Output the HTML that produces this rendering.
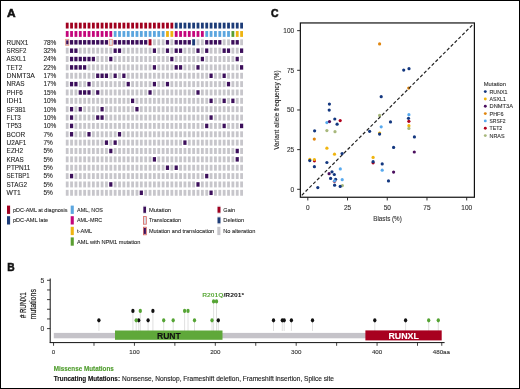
<!DOCTYPE html>
<html><head><meta charset="utf-8"><style>
html,body{margin:0;padding:0;background:#fff;}
body{width:520px;height:389px;overflow:hidden;}
svg{display:block;font-family:"Liberation Sans", sans-serif;will-change:transform;}
</style></head><body>
<svg width="520" height="389" viewBox="0 0 520 389">
<rect x="0" y="0" width="520" height="389" fill="#fff"/>
<rect x="65.80" y="22.68" width="2.80" height="5.85" fill="#a1001f"/>
<rect x="65.80" y="31.04" width="2.80" height="5.85" fill="#c4067c"/>
<rect x="70.16" y="22.68" width="2.80" height="5.85" fill="#a1001f"/>
<rect x="70.16" y="31.04" width="2.80" height="5.85" fill="#c4067c"/>
<rect x="74.52" y="22.68" width="2.80" height="5.85" fill="#a1001f"/>
<rect x="74.52" y="31.04" width="2.80" height="5.85" fill="#c4067c"/>
<rect x="78.88" y="22.68" width="2.80" height="5.85" fill="#a1001f"/>
<rect x="78.88" y="31.04" width="2.80" height="5.85" fill="#c4067c"/>
<rect x="83.24" y="22.68" width="2.80" height="5.85" fill="#a1001f"/>
<rect x="83.24" y="31.04" width="2.80" height="5.85" fill="#c4067c"/>
<rect x="87.60" y="22.68" width="2.80" height="5.85" fill="#a1001f"/>
<rect x="87.60" y="31.04" width="2.80" height="5.85" fill="#c4067c"/>
<rect x="91.96" y="22.68" width="2.80" height="5.85" fill="#a1001f"/>
<rect x="91.96" y="31.04" width="2.80" height="5.85" fill="#c4067c"/>
<rect x="96.32" y="22.68" width="2.80" height="5.85" fill="#a1001f"/>
<rect x="96.32" y="31.04" width="2.80" height="5.85" fill="#c4067c"/>
<rect x="100.68" y="22.68" width="2.80" height="5.85" fill="#a1001f"/>
<rect x="100.68" y="31.04" width="2.80" height="5.85" fill="#c4067c"/>
<rect x="105.04" y="22.68" width="2.80" height="5.85" fill="#a1001f"/>
<rect x="105.04" y="31.04" width="2.80" height="5.85" fill="#c4067c"/>
<rect x="109.40" y="22.68" width="2.80" height="5.85" fill="#a1001f"/>
<rect x="109.40" y="31.04" width="2.80" height="5.85" fill="#c4067c"/>
<rect x="113.76" y="22.68" width="2.80" height="5.85" fill="#a1001f"/>
<rect x="113.76" y="31.04" width="2.80" height="5.85" fill="#5ba6df"/>
<rect x="118.12" y="22.68" width="2.80" height="5.85" fill="#a1001f"/>
<rect x="118.12" y="31.04" width="2.80" height="5.85" fill="#5ba6df"/>
<rect x="122.48" y="22.68" width="2.80" height="5.85" fill="#a1001f"/>
<rect x="122.48" y="31.04" width="2.80" height="5.85" fill="#5ba6df"/>
<rect x="126.84" y="22.68" width="2.80" height="5.85" fill="#a1001f"/>
<rect x="126.84" y="31.04" width="2.80" height="5.85" fill="#5ba6df"/>
<rect x="131.20" y="22.68" width="2.80" height="5.85" fill="#a1001f"/>
<rect x="131.20" y="31.04" width="2.80" height="5.85" fill="#5ba6df"/>
<rect x="135.56" y="22.68" width="2.80" height="5.85" fill="#a1001f"/>
<rect x="135.56" y="31.04" width="2.80" height="5.85" fill="#5ba6df"/>
<rect x="139.92" y="22.68" width="2.80" height="5.85" fill="#a1001f"/>
<rect x="139.92" y="31.04" width="2.80" height="5.85" fill="#5ba6df"/>
<rect x="144.28" y="22.68" width="2.80" height="5.85" fill="#a1001f"/>
<rect x="144.28" y="31.04" width="2.80" height="5.85" fill="#5ba6df"/>
<rect x="148.64" y="22.68" width="2.80" height="5.85" fill="#a1001f"/>
<rect x="148.64" y="31.04" width="2.80" height="5.85" fill="#5ba6df"/>
<rect x="153.00" y="22.68" width="2.80" height="5.85" fill="#a1001f"/>
<rect x="153.00" y="31.04" width="2.80" height="5.85" fill="#5ba6df"/>
<rect x="157.36" y="22.68" width="2.80" height="5.85" fill="#a1001f"/>
<rect x="157.36" y="31.04" width="2.80" height="5.85" fill="#5ba6df"/>
<rect x="161.72" y="22.68" width="2.80" height="5.85" fill="#a1001f"/>
<rect x="161.72" y="31.04" width="2.80" height="5.85" fill="#5ba6df"/>
<rect x="166.08" y="22.68" width="2.80" height="5.85" fill="#a1001f"/>
<rect x="166.08" y="31.04" width="2.80" height="5.85" fill="#eeb412"/>
<rect x="170.44" y="22.68" width="2.80" height="5.85" fill="#a1001f"/>
<rect x="170.44" y="31.04" width="2.80" height="5.85" fill="#eeb412"/>
<rect x="174.80" y="22.68" width="2.80" height="5.85" fill="#1d3c78"/>
<rect x="174.80" y="31.04" width="2.80" height="5.85" fill="#c4067c"/>
<rect x="179.16" y="22.68" width="2.80" height="5.85" fill="#1d3c78"/>
<rect x="179.16" y="31.04" width="2.80" height="5.85" fill="#c4067c"/>
<rect x="183.52" y="22.68" width="2.80" height="5.85" fill="#1d3c78"/>
<rect x="183.52" y="31.04" width="2.80" height="5.85" fill="#c4067c"/>
<rect x="187.88" y="22.68" width="2.80" height="5.85" fill="#1d3c78"/>
<rect x="187.88" y="31.04" width="2.80" height="5.85" fill="#c4067c"/>
<rect x="192.24" y="22.68" width="2.80" height="5.85" fill="#1d3c78"/>
<rect x="192.24" y="31.04" width="2.80" height="5.85" fill="#c4067c"/>
<rect x="196.60" y="22.68" width="2.80" height="5.85" fill="#1d3c78"/>
<rect x="196.60" y="31.04" width="2.80" height="5.85" fill="#c4067c"/>
<rect x="200.96" y="22.68" width="2.80" height="5.85" fill="#1d3c78"/>
<rect x="200.96" y="31.04" width="2.80" height="5.85" fill="#c4067c"/>
<rect x="205.32" y="22.68" width="2.80" height="5.85" fill="#1d3c78"/>
<rect x="205.32" y="31.04" width="2.80" height="5.85" fill="#5ba6df"/>
<rect x="209.68" y="22.68" width="2.80" height="5.85" fill="#1d3c78"/>
<rect x="209.68" y="31.04" width="2.80" height="5.85" fill="#5ba6df"/>
<rect x="214.04" y="22.68" width="2.80" height="5.85" fill="#1d3c78"/>
<rect x="214.04" y="31.04" width="2.80" height="5.85" fill="#5ba6df"/>
<rect x="218.40" y="22.68" width="2.80" height="5.85" fill="#1d3c78"/>
<rect x="218.40" y="31.04" width="2.80" height="5.85" fill="#5ba6df"/>
<rect x="222.76" y="22.68" width="2.80" height="5.85" fill="#1d3c78"/>
<rect x="222.76" y="31.04" width="2.80" height="5.85" fill="#5ba6df"/>
<rect x="227.12" y="22.68" width="2.80" height="5.85" fill="#1d3c78"/>
<rect x="227.12" y="31.04" width="2.80" height="5.85" fill="#5ba6df"/>
<rect x="231.48" y="22.68" width="2.80" height="5.85" fill="#1d3c78"/>
<rect x="231.48" y="31.04" width="2.80" height="5.85" fill="#5a9e31"/>
<rect x="235.84" y="22.68" width="2.80" height="5.85" fill="#1d3c78"/>
<rect x="235.84" y="31.04" width="2.80" height="5.85" fill="#eeb412"/>
<rect x="240.20" y="22.68" width="2.80" height="5.85" fill="#1d3c78"/>
<rect x="240.20" y="31.04" width="2.80" height="5.85" fill="#eeb412"/>
<rect x="65.65" y="39.37" width="3.1" height="5.9" fill="#dde0e6" stroke="#e69a8a" stroke-width="0.9"/>
<rect x="66.20" y="40.37" width="2.20" height="3.90" fill="#3c0f5b"/>
<rect x="69.96" y="40.07" width="3.20" height="4.50" fill="#3c0f5b"/>
<rect x="74.32" y="40.07" width="3.20" height="4.50" fill="#3c0f5b"/>
<rect x="78.68" y="40.07" width="3.20" height="4.50" fill="#3c0f5b"/>
<rect x="83.04" y="40.07" width="3.20" height="4.50" fill="#3c0f5b"/>
<rect x="87.40" y="40.07" width="3.20" height="4.50" fill="#3c0f5b"/>
<rect x="91.76" y="40.07" width="3.20" height="4.50" fill="#3c0f5b"/>
<rect x="96.12" y="40.07" width="3.20" height="4.50" fill="#3c0f5b"/>
<rect x="100.48" y="40.07" width="3.20" height="4.50" fill="#3c0f5b"/>
<rect x="104.84" y="40.07" width="3.20" height="4.50" fill="#3c0f5b"/>
<rect x="109.25" y="39.37" width="3.1" height="5.9" fill="#dde0e6" stroke="#e69a8a" stroke-width="0.9"/>
<rect x="113.56" y="40.07" width="3.20" height="4.50" fill="#3c0f5b"/>
<rect x="117.92" y="40.07" width="3.20" height="4.50" fill="#3c0f5b"/>
<rect x="122.28" y="40.07" width="3.20" height="4.50" fill="#3c0f5b"/>
<rect x="126.64" y="40.07" width="3.20" height="4.50" fill="#3c0f5b"/>
<rect x="131.00" y="40.07" width="3.20" height="4.50" fill="#3c0f5b"/>
<rect x="135.36" y="40.07" width="3.20" height="4.50" fill="#3c0f5b"/>
<rect x="139.72" y="40.07" width="3.20" height="4.50" fill="#3c0f5b"/>
<rect x="144.08" y="40.07" width="3.20" height="4.50" fill="#3c0f5b"/>
<rect x="148.59" y="39.27" width="2.90" height="6.10" fill="#a1001f"/>
<rect x="153.00" y="39.37" width="2.80" height="5.90" fill="#c7c6cb"/>
<rect x="157.36" y="39.37" width="2.80" height="5.90" fill="#c7c6cb"/>
<rect x="161.72" y="39.37" width="2.80" height="5.90" fill="#c7c6cb"/>
<rect x="165.88" y="40.07" width="3.20" height="4.50" fill="#3c0f5b"/>
<rect x="170.44" y="39.37" width="2.80" height="5.90" fill="#c7c6cb"/>
<rect x="174.60" y="40.07" width="3.20" height="4.50" fill="#3c0f5b"/>
<rect x="178.96" y="40.07" width="3.20" height="4.50" fill="#3c0f5b"/>
<rect x="183.32" y="40.07" width="3.20" height="4.50" fill="#3c0f5b"/>
<rect x="187.68" y="40.07" width="3.20" height="4.50" fill="#3c0f5b"/>
<rect x="192.19" y="39.27" width="2.90" height="6.10" fill="#1d3c78"/>
<rect x="196.60" y="39.37" width="2.80" height="5.90" fill="#c7c6cb"/>
<rect x="200.96" y="39.37" width="2.80" height="5.90" fill="#c7c6cb"/>
<rect x="205.12" y="40.07" width="3.20" height="4.50" fill="#3c0f5b"/>
<rect x="209.48" y="40.07" width="3.20" height="4.50" fill="#3c0f5b"/>
<rect x="213.84" y="40.07" width="3.20" height="4.50" fill="#3c0f5b"/>
<rect x="218.20" y="40.07" width="3.20" height="4.50" fill="#3c0f5b"/>
<rect x="222.76" y="39.37" width="2.80" height="5.90" fill="#c7c6cb"/>
<rect x="227.12" y="39.37" width="2.80" height="5.90" fill="#c7c6cb"/>
<rect x="231.28" y="40.07" width="3.20" height="4.50" fill="#3c0f5b"/>
<rect x="235.64" y="40.07" width="3.20" height="4.50" fill="#3c0f5b"/>
<rect x="240.20" y="39.37" width="2.80" height="5.90" fill="#c7c6cb"/>
<text x="6.60" y="44.62" font-size="6.6" fill="#262626" textLength="21.80" lengthAdjust="spacingAndGlyphs" stroke="#262626" stroke-width="0.1">RUNX1</text>
<text x="43.40" y="44.62" font-size="6.5" fill="#262626" stroke="#262626" stroke-width="0.1">78%</text>
<rect x="65.80" y="47.73" width="2.80" height="5.90" fill="#c7c6cb"/>
<rect x="69.96" y="48.43" width="3.20" height="4.50" fill="#3c0f5b"/>
<rect x="74.32" y="48.43" width="3.20" height="4.50" fill="#3c0f5b"/>
<rect x="78.88" y="47.73" width="2.80" height="5.90" fill="#c7c6cb"/>
<rect x="83.24" y="47.73" width="2.80" height="5.90" fill="#c7c6cb"/>
<rect x="87.60" y="47.73" width="2.80" height="5.90" fill="#c7c6cb"/>
<rect x="91.96" y="47.73" width="2.80" height="5.90" fill="#c7c6cb"/>
<rect x="96.32" y="47.73" width="2.80" height="5.90" fill="#c7c6cb"/>
<rect x="100.68" y="47.73" width="2.80" height="5.90" fill="#c7c6cb"/>
<rect x="105.04" y="47.73" width="2.80" height="5.90" fill="#c7c6cb"/>
<rect x="109.40" y="47.73" width="2.80" height="5.90" fill="#c7c6cb"/>
<rect x="113.56" y="48.43" width="3.20" height="4.50" fill="#3c0f5b"/>
<rect x="117.92" y="48.43" width="3.20" height="4.50" fill="#3c0f5b"/>
<rect x="122.48" y="47.73" width="2.80" height="5.90" fill="#c7c6cb"/>
<rect x="126.84" y="47.73" width="2.80" height="5.90" fill="#c7c6cb"/>
<rect x="131.20" y="47.73" width="2.80" height="5.90" fill="#c7c6cb"/>
<rect x="135.56" y="47.73" width="2.80" height="5.90" fill="#c7c6cb"/>
<rect x="139.92" y="47.73" width="2.80" height="5.90" fill="#c7c6cb"/>
<rect x="144.28" y="47.73" width="2.80" height="5.90" fill="#c7c6cb"/>
<rect x="148.64" y="47.73" width="2.80" height="5.90" fill="#c7c6cb"/>
<rect x="152.80" y="48.43" width="3.20" height="4.50" fill="#3c0f5b"/>
<rect x="157.36" y="47.73" width="2.80" height="5.90" fill="#c7c6cb"/>
<rect x="161.72" y="47.73" width="2.80" height="5.90" fill="#c7c6cb"/>
<rect x="165.88" y="48.43" width="3.20" height="4.50" fill="#3c0f5b"/>
<rect x="170.44" y="47.73" width="2.80" height="5.90" fill="#c7c6cb"/>
<rect x="174.60" y="48.43" width="3.20" height="4.50" fill="#3c0f5b"/>
<rect x="178.96" y="48.43" width="3.20" height="4.50" fill="#3c0f5b"/>
<rect x="183.52" y="47.73" width="2.80" height="5.90" fill="#c7c6cb"/>
<rect x="187.88" y="47.73" width="2.80" height="5.90" fill="#c7c6cb"/>
<rect x="192.24" y="47.73" width="2.80" height="5.90" fill="#c7c6cb"/>
<rect x="196.40" y="48.43" width="3.20" height="4.50" fill="#3c0f5b"/>
<rect x="200.96" y="47.73" width="2.80" height="5.90" fill="#c7c6cb"/>
<rect x="205.12" y="48.43" width="3.20" height="4.50" fill="#3c0f5b"/>
<rect x="209.68" y="47.73" width="2.80" height="5.90" fill="#c7c6cb"/>
<rect x="214.04" y="47.73" width="2.80" height="5.90" fill="#c7c6cb"/>
<rect x="218.40" y="47.73" width="2.80" height="5.90" fill="#c7c6cb"/>
<rect x="222.56" y="48.43" width="3.20" height="4.50" fill="#3c0f5b"/>
<rect x="226.92" y="48.43" width="3.20" height="4.50" fill="#3c0f5b"/>
<rect x="231.48" y="47.73" width="2.80" height="5.90" fill="#c7c6cb"/>
<rect x="235.84" y="47.73" width="2.80" height="5.90" fill="#c7c6cb"/>
<rect x="240.00" y="48.43" width="3.20" height="4.50" fill="#3c0f5b"/>
<text x="6.60" y="52.98" font-size="6.6" fill="#262626" textLength="19.70" lengthAdjust="spacingAndGlyphs" stroke="#262626" stroke-width="0.1">SRSF2</text>
<text x="43.40" y="52.98" font-size="6.5" fill="#262626" stroke="#262626" stroke-width="0.1">32%</text>
<rect x="65.80" y="56.09" width="2.80" height="5.90" fill="#c7c6cb"/>
<rect x="69.96" y="56.79" width="3.20" height="4.50" fill="#3c0f5b"/>
<rect x="74.32" y="56.79" width="3.20" height="4.50" fill="#3c0f5b"/>
<rect x="78.68" y="56.79" width="3.20" height="4.50" fill="#3c0f5b"/>
<rect x="83.04" y="56.79" width="3.20" height="4.50" fill="#3c0f5b"/>
<rect x="87.40" y="56.79" width="3.20" height="4.50" fill="#3c0f5b"/>
<rect x="91.76" y="56.79" width="3.20" height="4.50" fill="#3c0f5b"/>
<rect x="96.32" y="56.09" width="2.80" height="5.90" fill="#c7c6cb"/>
<rect x="100.68" y="56.09" width="2.80" height="5.90" fill="#c7c6cb"/>
<rect x="105.04" y="56.09" width="2.80" height="5.90" fill="#c7c6cb"/>
<rect x="109.20" y="56.79" width="3.20" height="4.50" fill="#3c0f5b"/>
<rect x="113.76" y="56.09" width="2.80" height="5.90" fill="#c7c6cb"/>
<rect x="118.12" y="56.09" width="2.80" height="5.90" fill="#c7c6cb"/>
<rect x="122.48" y="56.09" width="2.80" height="5.90" fill="#c7c6cb"/>
<rect x="126.84" y="56.09" width="2.80" height="5.90" fill="#c7c6cb"/>
<rect x="131.20" y="56.09" width="2.80" height="5.90" fill="#c7c6cb"/>
<rect x="135.56" y="56.09" width="2.80" height="5.90" fill="#c7c6cb"/>
<rect x="139.92" y="56.09" width="2.80" height="5.90" fill="#c7c6cb"/>
<rect x="144.28" y="56.09" width="2.80" height="5.90" fill="#c7c6cb"/>
<rect x="148.64" y="56.09" width="2.80" height="5.90" fill="#c7c6cb"/>
<rect x="153.00" y="56.09" width="2.80" height="5.90" fill="#c7c6cb"/>
<rect x="157.36" y="56.09" width="2.80" height="5.90" fill="#c7c6cb"/>
<rect x="161.72" y="56.09" width="2.80" height="5.90" fill="#c7c6cb"/>
<rect x="166.08" y="56.09" width="2.80" height="5.90" fill="#c7c6cb"/>
<rect x="170.24" y="56.79" width="3.20" height="4.50" fill="#3c0f5b"/>
<rect x="174.80" y="56.09" width="2.80" height="5.90" fill="#c7c6cb"/>
<rect x="179.16" y="56.09" width="2.80" height="5.90" fill="#c7c6cb"/>
<rect x="183.52" y="56.09" width="2.80" height="5.90" fill="#c7c6cb"/>
<rect x="187.88" y="56.09" width="2.80" height="5.90" fill="#c7c6cb"/>
<rect x="192.24" y="56.09" width="2.80" height="5.90" fill="#c7c6cb"/>
<rect x="196.60" y="56.09" width="2.80" height="5.90" fill="#c7c6cb"/>
<rect x="200.76" y="56.79" width="3.20" height="4.50" fill="#3c0f5b"/>
<rect x="205.32" y="56.09" width="2.80" height="5.90" fill="#c7c6cb"/>
<rect x="209.68" y="56.09" width="2.80" height="5.90" fill="#c7c6cb"/>
<rect x="214.04" y="56.09" width="2.80" height="5.90" fill="#c7c6cb"/>
<rect x="218.40" y="56.09" width="2.80" height="5.90" fill="#c7c6cb"/>
<rect x="222.76" y="56.09" width="2.80" height="5.90" fill="#c7c6cb"/>
<rect x="227.12" y="56.09" width="2.80" height="5.90" fill="#c7c6cb"/>
<rect x="231.48" y="56.09" width="2.80" height="5.90" fill="#c7c6cb"/>
<rect x="235.64" y="56.79" width="3.20" height="4.50" fill="#3c0f5b"/>
<rect x="240.20" y="56.09" width="2.80" height="5.90" fill="#c7c6cb"/>
<text x="6.60" y="61.34" font-size="6.6" fill="#262626" textLength="19.30" lengthAdjust="spacingAndGlyphs" stroke="#262626" stroke-width="0.1">ASXL1</text>
<text x="43.40" y="61.34" font-size="6.5" fill="#262626" stroke="#262626" stroke-width="0.1">24%</text>
<rect x="65.80" y="64.45" width="2.80" height="5.90" fill="#c7c6cb"/>
<rect x="69.96" y="65.15" width="3.20" height="4.50" fill="#3c0f5b"/>
<rect x="74.32" y="65.15" width="3.20" height="4.50" fill="#3c0f5b"/>
<rect x="78.68" y="65.15" width="3.20" height="4.50" fill="#3c0f5b"/>
<rect x="83.04" y="65.15" width="3.20" height="4.50" fill="#3c0f5b"/>
<rect x="87.60" y="64.45" width="2.80" height="5.90" fill="#c7c6cb"/>
<rect x="91.96" y="64.45" width="2.80" height="5.90" fill="#c7c6cb"/>
<rect x="96.32" y="64.45" width="2.80" height="5.90" fill="#c7c6cb"/>
<rect x="100.68" y="64.45" width="2.80" height="5.90" fill="#c7c6cb"/>
<rect x="105.04" y="64.45" width="2.80" height="5.90" fill="#c7c6cb"/>
<rect x="109.40" y="64.45" width="2.80" height="5.90" fill="#c7c6cb"/>
<rect x="113.76" y="64.45" width="2.80" height="5.90" fill="#c7c6cb"/>
<rect x="118.12" y="64.45" width="2.80" height="5.90" fill="#c7c6cb"/>
<rect x="122.48" y="64.45" width="2.80" height="5.90" fill="#c7c6cb"/>
<rect x="126.84" y="64.45" width="2.80" height="5.90" fill="#c7c6cb"/>
<rect x="131.20" y="64.45" width="2.80" height="5.90" fill="#c7c6cb"/>
<rect x="135.56" y="64.45" width="2.80" height="5.90" fill="#c7c6cb"/>
<rect x="139.92" y="64.45" width="2.80" height="5.90" fill="#c7c6cb"/>
<rect x="144.28" y="64.45" width="2.80" height="5.90" fill="#c7c6cb"/>
<rect x="148.64" y="64.45" width="2.80" height="5.90" fill="#c7c6cb"/>
<rect x="152.80" y="65.15" width="3.20" height="4.50" fill="#3c0f5b"/>
<rect x="157.36" y="64.45" width="2.80" height="5.90" fill="#c7c6cb"/>
<rect x="161.72" y="64.45" width="2.80" height="5.90" fill="#c7c6cb"/>
<rect x="166.08" y="64.45" width="2.80" height="5.90" fill="#c7c6cb"/>
<rect x="170.44" y="64.45" width="2.80" height="5.90" fill="#c7c6cb"/>
<rect x="174.60" y="65.15" width="3.20" height="4.50" fill="#3c0f5b"/>
<rect x="178.96" y="65.15" width="3.20" height="4.50" fill="#3c0f5b"/>
<rect x="183.52" y="64.45" width="2.80" height="5.90" fill="#c7c6cb"/>
<rect x="187.88" y="64.45" width="2.80" height="5.90" fill="#c7c6cb"/>
<rect x="192.24" y="64.45" width="2.80" height="5.90" fill="#c7c6cb"/>
<rect x="196.40" y="65.15" width="3.20" height="4.50" fill="#3c0f5b"/>
<rect x="200.96" y="64.45" width="2.80" height="5.90" fill="#c7c6cb"/>
<rect x="205.32" y="64.45" width="2.80" height="5.90" fill="#c7c6cb"/>
<rect x="209.68" y="64.45" width="2.80" height="5.90" fill="#c7c6cb"/>
<rect x="214.04" y="64.45" width="2.80" height="5.90" fill="#c7c6cb"/>
<rect x="218.40" y="64.45" width="2.80" height="5.90" fill="#c7c6cb"/>
<rect x="222.76" y="64.45" width="2.80" height="5.90" fill="#c7c6cb"/>
<rect x="227.12" y="64.45" width="2.80" height="5.90" fill="#c7c6cb"/>
<rect x="231.48" y="64.45" width="2.80" height="5.90" fill="#c7c6cb"/>
<rect x="235.84" y="64.45" width="2.80" height="5.90" fill="#c7c6cb"/>
<rect x="240.00" y="65.15" width="3.20" height="4.50" fill="#3c0f5b"/>
<text x="6.60" y="69.70" font-size="6.6" fill="#262626" textLength="15.80" lengthAdjust="spacingAndGlyphs" stroke="#262626" stroke-width="0.1">TET2</text>
<text x="43.40" y="69.70" font-size="6.5" fill="#262626" stroke="#262626" stroke-width="0.1">22%</text>
<rect x="65.80" y="72.81" width="2.80" height="5.90" fill="#c7c6cb"/>
<rect x="70.16" y="72.81" width="2.80" height="5.90" fill="#c7c6cb"/>
<rect x="74.52" y="72.81" width="2.80" height="5.90" fill="#c7c6cb"/>
<rect x="78.88" y="72.81" width="2.80" height="5.90" fill="#c7c6cb"/>
<rect x="83.24" y="72.81" width="2.80" height="5.90" fill="#c7c6cb"/>
<rect x="87.60" y="72.81" width="2.80" height="5.90" fill="#c7c6cb"/>
<rect x="91.96" y="72.81" width="2.80" height="5.90" fill="#c7c6cb"/>
<rect x="96.12" y="73.51" width="3.20" height="4.50" fill="#3c0f5b"/>
<rect x="100.48" y="73.51" width="3.20" height="4.50" fill="#3c0f5b"/>
<rect x="104.84" y="73.51" width="3.20" height="4.50" fill="#3c0f5b"/>
<rect x="109.40" y="72.81" width="2.80" height="5.90" fill="#c7c6cb"/>
<rect x="113.56" y="73.51" width="3.20" height="4.50" fill="#3c0f5b"/>
<rect x="118.12" y="72.81" width="2.80" height="5.90" fill="#c7c6cb"/>
<rect x="122.28" y="73.51" width="3.20" height="4.50" fill="#3c0f5b"/>
<rect x="126.84" y="72.81" width="2.80" height="5.90" fill="#c7c6cb"/>
<rect x="131.20" y="72.81" width="2.80" height="5.90" fill="#c7c6cb"/>
<rect x="135.56" y="72.81" width="2.80" height="5.90" fill="#c7c6cb"/>
<rect x="139.92" y="72.81" width="2.80" height="5.90" fill="#c7c6cb"/>
<rect x="144.28" y="72.81" width="2.80" height="5.90" fill="#c7c6cb"/>
<rect x="148.64" y="72.81" width="2.80" height="5.90" fill="#c7c6cb"/>
<rect x="153.00" y="72.81" width="2.80" height="5.90" fill="#c7c6cb"/>
<rect x="157.36" y="72.81" width="2.80" height="5.90" fill="#c7c6cb"/>
<rect x="161.72" y="72.81" width="2.80" height="5.90" fill="#c7c6cb"/>
<rect x="166.08" y="72.81" width="2.80" height="5.90" fill="#c7c6cb"/>
<rect x="170.44" y="72.81" width="2.80" height="5.90" fill="#c7c6cb"/>
<rect x="174.80" y="72.81" width="2.80" height="5.90" fill="#c7c6cb"/>
<rect x="179.16" y="72.81" width="2.80" height="5.90" fill="#c7c6cb"/>
<rect x="183.52" y="72.81" width="2.80" height="5.90" fill="#c7c6cb"/>
<rect x="187.88" y="72.81" width="2.80" height="5.90" fill="#c7c6cb"/>
<rect x="192.24" y="72.81" width="2.80" height="5.90" fill="#c7c6cb"/>
<rect x="196.60" y="72.81" width="2.80" height="5.90" fill="#c7c6cb"/>
<rect x="200.96" y="72.81" width="2.80" height="5.90" fill="#c7c6cb"/>
<rect x="205.32" y="72.81" width="2.80" height="5.90" fill="#c7c6cb"/>
<rect x="209.48" y="73.51" width="3.20" height="4.50" fill="#3c0f5b"/>
<rect x="214.04" y="72.81" width="2.80" height="5.90" fill="#c7c6cb"/>
<rect x="218.40" y="72.81" width="2.80" height="5.90" fill="#c7c6cb"/>
<rect x="222.56" y="73.51" width="3.20" height="4.50" fill="#3c0f5b"/>
<rect x="227.12" y="72.81" width="2.80" height="5.90" fill="#c7c6cb"/>
<rect x="231.48" y="72.81" width="2.80" height="5.90" fill="#c7c6cb"/>
<rect x="235.84" y="72.81" width="2.80" height="5.90" fill="#c7c6cb"/>
<rect x="240.20" y="72.81" width="2.80" height="5.90" fill="#c7c6cb"/>
<text x="6.60" y="78.06" font-size="6.6" fill="#262626" textLength="28.20" lengthAdjust="spacingAndGlyphs" stroke="#262626" stroke-width="0.1">DNMT3A</text>
<text x="43.40" y="78.06" font-size="6.5" fill="#262626" stroke="#262626" stroke-width="0.1">17%</text>
<rect x="65.80" y="81.17" width="2.80" height="5.90" fill="#c7c6cb"/>
<rect x="69.96" y="81.87" width="3.20" height="4.50" fill="#3c0f5b"/>
<rect x="74.32" y="81.87" width="3.20" height="4.50" fill="#3c0f5b"/>
<rect x="78.88" y="81.17" width="2.80" height="5.90" fill="#c7c6cb"/>
<rect x="83.24" y="81.17" width="2.80" height="5.90" fill="#c7c6cb"/>
<rect x="87.40" y="81.87" width="3.20" height="4.50" fill="#3c0f5b"/>
<rect x="91.96" y="81.17" width="2.80" height="5.90" fill="#c7c6cb"/>
<rect x="96.32" y="81.17" width="2.80" height="5.90" fill="#c7c6cb"/>
<rect x="100.68" y="81.17" width="2.80" height="5.90" fill="#c7c6cb"/>
<rect x="105.04" y="81.17" width="2.80" height="5.90" fill="#c7c6cb"/>
<rect x="109.40" y="81.17" width="2.80" height="5.90" fill="#c7c6cb"/>
<rect x="113.76" y="81.17" width="2.80" height="5.90" fill="#c7c6cb"/>
<rect x="118.12" y="81.17" width="2.80" height="5.90" fill="#c7c6cb"/>
<rect x="122.48" y="81.17" width="2.80" height="5.90" fill="#c7c6cb"/>
<rect x="126.64" y="81.87" width="3.20" height="4.50" fill="#3c0f5b"/>
<rect x="131.20" y="81.17" width="2.80" height="5.90" fill="#c7c6cb"/>
<rect x="135.56" y="81.17" width="2.80" height="5.90" fill="#c7c6cb"/>
<rect x="139.92" y="81.17" width="2.80" height="5.90" fill="#c7c6cb"/>
<rect x="144.28" y="81.17" width="2.80" height="5.90" fill="#c7c6cb"/>
<rect x="148.64" y="81.17" width="2.80" height="5.90" fill="#c7c6cb"/>
<rect x="152.80" y="81.87" width="3.20" height="4.50" fill="#3c0f5b"/>
<rect x="157.36" y="81.17" width="2.80" height="5.90" fill="#c7c6cb"/>
<rect x="161.72" y="81.17" width="2.80" height="5.90" fill="#c7c6cb"/>
<rect x="165.88" y="81.87" width="3.20" height="4.50" fill="#3c0f5b"/>
<rect x="170.44" y="81.17" width="2.80" height="5.90" fill="#c7c6cb"/>
<rect x="174.80" y="81.17" width="2.80" height="5.90" fill="#c7c6cb"/>
<rect x="179.16" y="81.17" width="2.80" height="5.90" fill="#c7c6cb"/>
<rect x="183.52" y="81.17" width="2.80" height="5.90" fill="#c7c6cb"/>
<rect x="187.88" y="81.17" width="2.80" height="5.90" fill="#c7c6cb"/>
<rect x="192.24" y="81.17" width="2.80" height="5.90" fill="#c7c6cb"/>
<rect x="196.60" y="81.17" width="2.80" height="5.90" fill="#c7c6cb"/>
<rect x="200.96" y="81.17" width="2.80" height="5.90" fill="#c7c6cb"/>
<rect x="205.32" y="81.17" width="2.80" height="5.90" fill="#c7c6cb"/>
<rect x="209.68" y="81.17" width="2.80" height="5.90" fill="#c7c6cb"/>
<rect x="214.04" y="81.17" width="2.80" height="5.90" fill="#c7c6cb"/>
<rect x="218.40" y="81.17" width="2.80" height="5.90" fill="#c7c6cb"/>
<rect x="222.76" y="81.17" width="2.80" height="5.90" fill="#c7c6cb"/>
<rect x="226.92" y="81.87" width="3.20" height="4.50" fill="#3c0f5b"/>
<rect x="231.48" y="81.17" width="2.80" height="5.90" fill="#c7c6cb"/>
<rect x="235.84" y="81.17" width="2.80" height="5.90" fill="#c7c6cb"/>
<rect x="240.20" y="81.17" width="2.80" height="5.90" fill="#c7c6cb"/>
<text x="6.60" y="86.42" font-size="6.6" fill="#262626" textLength="17.90" lengthAdjust="spacingAndGlyphs" stroke="#262626" stroke-width="0.1">NRAS</text>
<text x="43.40" y="86.42" font-size="6.5" fill="#262626" stroke="#262626" stroke-width="0.1">17%</text>
<rect x="65.80" y="89.53" width="2.80" height="5.90" fill="#c7c6cb"/>
<rect x="70.16" y="89.53" width="2.80" height="5.90" fill="#c7c6cb"/>
<rect x="74.52" y="89.53" width="2.80" height="5.90" fill="#c7c6cb"/>
<rect x="78.68" y="90.23" width="3.20" height="4.50" fill="#3c0f5b"/>
<rect x="83.04" y="90.23" width="3.20" height="4.50" fill="#3c0f5b"/>
<rect x="87.40" y="90.23" width="3.20" height="4.50" fill="#3c0f5b"/>
<rect x="91.96" y="89.53" width="2.80" height="5.90" fill="#c7c6cb"/>
<rect x="96.12" y="90.23" width="3.20" height="4.50" fill="#3c0f5b"/>
<rect x="100.68" y="89.53" width="2.80" height="5.90" fill="#c7c6cb"/>
<rect x="105.04" y="89.53" width="2.80" height="5.90" fill="#c7c6cb"/>
<rect x="109.40" y="89.53" width="2.80" height="5.90" fill="#c7c6cb"/>
<rect x="113.76" y="89.53" width="2.80" height="5.90" fill="#c7c6cb"/>
<rect x="118.12" y="89.53" width="2.80" height="5.90" fill="#c7c6cb"/>
<rect x="122.48" y="89.53" width="2.80" height="5.90" fill="#c7c6cb"/>
<rect x="126.84" y="89.53" width="2.80" height="5.90" fill="#c7c6cb"/>
<rect x="131.20" y="89.53" width="2.80" height="5.90" fill="#c7c6cb"/>
<rect x="135.56" y="89.53" width="2.80" height="5.90" fill="#c7c6cb"/>
<rect x="139.92" y="89.53" width="2.80" height="5.90" fill="#c7c6cb"/>
<rect x="144.28" y="89.53" width="2.80" height="5.90" fill="#c7c6cb"/>
<rect x="148.44" y="90.23" width="3.20" height="4.50" fill="#3c0f5b"/>
<rect x="153.00" y="89.53" width="2.80" height="5.90" fill="#c7c6cb"/>
<rect x="157.36" y="89.53" width="2.80" height="5.90" fill="#c7c6cb"/>
<rect x="161.72" y="89.53" width="2.80" height="5.90" fill="#c7c6cb"/>
<rect x="166.08" y="89.53" width="2.80" height="5.90" fill="#c7c6cb"/>
<rect x="170.44" y="89.53" width="2.80" height="5.90" fill="#c7c6cb"/>
<rect x="174.80" y="89.53" width="2.80" height="5.90" fill="#c7c6cb"/>
<rect x="179.16" y="89.53" width="2.80" height="5.90" fill="#c7c6cb"/>
<rect x="183.52" y="89.53" width="2.80" height="5.90" fill="#c7c6cb"/>
<rect x="187.88" y="89.53" width="2.80" height="5.90" fill="#c7c6cb"/>
<rect x="192.24" y="89.53" width="2.80" height="5.90" fill="#c7c6cb"/>
<rect x="196.40" y="90.23" width="3.20" height="4.50" fill="#3c0f5b"/>
<rect x="200.96" y="89.53" width="2.80" height="5.90" fill="#c7c6cb"/>
<rect x="205.32" y="89.53" width="2.80" height="5.90" fill="#c7c6cb"/>
<rect x="209.68" y="89.53" width="2.80" height="5.90" fill="#c7c6cb"/>
<rect x="214.04" y="89.53" width="2.80" height="5.90" fill="#c7c6cb"/>
<rect x="218.40" y="89.53" width="2.80" height="5.90" fill="#c7c6cb"/>
<rect x="222.76" y="89.53" width="2.80" height="5.90" fill="#c7c6cb"/>
<rect x="227.12" y="89.53" width="2.80" height="5.90" fill="#c7c6cb"/>
<rect x="231.48" y="89.53" width="2.80" height="5.90" fill="#c7c6cb"/>
<rect x="235.84" y="89.53" width="2.80" height="5.90" fill="#c7c6cb"/>
<rect x="240.20" y="89.53" width="2.80" height="5.90" fill="#c7c6cb"/>
<text x="6.60" y="94.78" font-size="6.6" fill="#262626" textLength="16.20" lengthAdjust="spacingAndGlyphs" stroke="#262626" stroke-width="0.1">PHF6</text>
<text x="43.40" y="94.78" font-size="6.5" fill="#262626" stroke="#262626" stroke-width="0.1">15%</text>
<rect x="65.80" y="97.89" width="2.80" height="5.90" fill="#c7c6cb"/>
<rect x="70.16" y="97.89" width="2.80" height="5.90" fill="#c7c6cb"/>
<rect x="74.52" y="97.89" width="2.80" height="5.90" fill="#c7c6cb"/>
<rect x="78.88" y="97.89" width="2.80" height="5.90" fill="#c7c6cb"/>
<rect x="83.24" y="97.89" width="2.80" height="5.90" fill="#c7c6cb"/>
<rect x="87.60" y="97.89" width="2.80" height="5.90" fill="#c7c6cb"/>
<rect x="91.96" y="97.89" width="2.80" height="5.90" fill="#c7c6cb"/>
<rect x="96.32" y="97.89" width="2.80" height="5.90" fill="#c7c6cb"/>
<rect x="100.68" y="97.89" width="2.80" height="5.90" fill="#c7c6cb"/>
<rect x="105.04" y="97.89" width="2.80" height="5.90" fill="#c7c6cb"/>
<rect x="109.40" y="97.89" width="2.80" height="5.90" fill="#c7c6cb"/>
<rect x="113.76" y="97.89" width="2.80" height="5.90" fill="#c7c6cb"/>
<rect x="118.12" y="97.89" width="2.80" height="5.90" fill="#c7c6cb"/>
<rect x="122.48" y="97.89" width="2.80" height="5.90" fill="#c7c6cb"/>
<rect x="126.84" y="97.89" width="2.80" height="5.90" fill="#c7c6cb"/>
<rect x="131.00" y="98.59" width="3.20" height="4.50" fill="#3c0f5b"/>
<rect x="135.56" y="97.89" width="2.80" height="5.90" fill="#c7c6cb"/>
<rect x="139.92" y="97.89" width="2.80" height="5.90" fill="#c7c6cb"/>
<rect x="144.28" y="97.89" width="2.80" height="5.90" fill="#c7c6cb"/>
<rect x="148.64" y="97.89" width="2.80" height="5.90" fill="#c7c6cb"/>
<rect x="153.00" y="97.89" width="2.80" height="5.90" fill="#c7c6cb"/>
<rect x="157.36" y="97.89" width="2.80" height="5.90" fill="#c7c6cb"/>
<rect x="161.72" y="97.89" width="2.80" height="5.90" fill="#c7c6cb"/>
<rect x="166.08" y="97.89" width="2.80" height="5.90" fill="#c7c6cb"/>
<rect x="170.44" y="97.89" width="2.80" height="5.90" fill="#c7c6cb"/>
<rect x="174.80" y="97.89" width="2.80" height="5.90" fill="#c7c6cb"/>
<rect x="179.16" y="97.89" width="2.80" height="5.90" fill="#c7c6cb"/>
<rect x="183.52" y="97.89" width="2.80" height="5.90" fill="#c7c6cb"/>
<rect x="187.88" y="97.89" width="2.80" height="5.90" fill="#c7c6cb"/>
<rect x="192.24" y="97.89" width="2.80" height="5.90" fill="#c7c6cb"/>
<rect x="196.60" y="97.89" width="2.80" height="5.90" fill="#c7c6cb"/>
<rect x="200.96" y="97.89" width="2.80" height="5.90" fill="#c7c6cb"/>
<rect x="205.32" y="97.89" width="2.80" height="5.90" fill="#c7c6cb"/>
<rect x="209.48" y="98.59" width="3.20" height="4.50" fill="#3c0f5b"/>
<rect x="214.04" y="97.89" width="2.80" height="5.90" fill="#c7c6cb"/>
<rect x="218.40" y="97.89" width="2.80" height="5.90" fill="#c7c6cb"/>
<rect x="222.56" y="98.59" width="3.20" height="4.50" fill="#3c0f5b"/>
<rect x="227.12" y="97.89" width="2.80" height="5.90" fill="#c7c6cb"/>
<rect x="231.28" y="98.59" width="3.20" height="4.50" fill="#3c0f5b"/>
<rect x="235.84" y="97.89" width="2.80" height="5.90" fill="#c7c6cb"/>
<rect x="240.20" y="97.89" width="2.80" height="5.90" fill="#c7c6cb"/>
<text x="6.60" y="103.14" font-size="6.6" fill="#262626" textLength="15.60" lengthAdjust="spacingAndGlyphs" stroke="#262626" stroke-width="0.1">IDH1</text>
<text x="43.40" y="103.14" font-size="6.5" fill="#262626" stroke="#262626" stroke-width="0.1">10%</text>
<rect x="65.80" y="106.25" width="2.80" height="5.90" fill="#c7c6cb"/>
<rect x="69.96" y="106.95" width="3.20" height="4.50" fill="#3c0f5b"/>
<rect x="74.52" y="106.25" width="2.80" height="5.90" fill="#c7c6cb"/>
<rect x="78.68" y="106.95" width="3.20" height="4.50" fill="#3c0f5b"/>
<rect x="83.24" y="106.25" width="2.80" height="5.90" fill="#c7c6cb"/>
<rect x="87.60" y="106.25" width="2.80" height="5.90" fill="#c7c6cb"/>
<rect x="91.96" y="106.25" width="2.80" height="5.90" fill="#c7c6cb"/>
<rect x="96.32" y="106.25" width="2.80" height="5.90" fill="#c7c6cb"/>
<rect x="100.48" y="106.95" width="3.20" height="4.50" fill="#3c0f5b"/>
<rect x="105.04" y="106.25" width="2.80" height="5.90" fill="#c7c6cb"/>
<rect x="109.40" y="106.25" width="2.80" height="5.90" fill="#c7c6cb"/>
<rect x="113.76" y="106.25" width="2.80" height="5.90" fill="#c7c6cb"/>
<rect x="118.12" y="106.25" width="2.80" height="5.90" fill="#c7c6cb"/>
<rect x="122.48" y="106.25" width="2.80" height="5.90" fill="#c7c6cb"/>
<rect x="126.84" y="106.25" width="2.80" height="5.90" fill="#c7c6cb"/>
<rect x="131.20" y="106.25" width="2.80" height="5.90" fill="#c7c6cb"/>
<rect x="135.36" y="106.95" width="3.20" height="4.50" fill="#3c0f5b"/>
<rect x="139.92" y="106.25" width="2.80" height="5.90" fill="#c7c6cb"/>
<rect x="144.28" y="106.25" width="2.80" height="5.90" fill="#c7c6cb"/>
<rect x="148.64" y="106.25" width="2.80" height="5.90" fill="#c7c6cb"/>
<rect x="153.00" y="106.25" width="2.80" height="5.90" fill="#c7c6cb"/>
<rect x="157.36" y="106.25" width="2.80" height="5.90" fill="#c7c6cb"/>
<rect x="161.72" y="106.25" width="2.80" height="5.90" fill="#c7c6cb"/>
<rect x="166.08" y="106.25" width="2.80" height="5.90" fill="#c7c6cb"/>
<rect x="170.44" y="106.25" width="2.80" height="5.90" fill="#c7c6cb"/>
<rect x="174.80" y="106.25" width="2.80" height="5.90" fill="#c7c6cb"/>
<rect x="179.16" y="106.25" width="2.80" height="5.90" fill="#c7c6cb"/>
<rect x="183.52" y="106.25" width="2.80" height="5.90" fill="#c7c6cb"/>
<rect x="187.88" y="106.25" width="2.80" height="5.90" fill="#c7c6cb"/>
<rect x="192.24" y="106.25" width="2.80" height="5.90" fill="#c7c6cb"/>
<rect x="196.60" y="106.25" width="2.80" height="5.90" fill="#c7c6cb"/>
<rect x="200.96" y="106.25" width="2.80" height="5.90" fill="#c7c6cb"/>
<rect x="205.32" y="106.25" width="2.80" height="5.90" fill="#c7c6cb"/>
<rect x="209.68" y="106.25" width="2.80" height="5.90" fill="#c7c6cb"/>
<rect x="214.04" y="106.25" width="2.80" height="5.90" fill="#c7c6cb"/>
<rect x="218.40" y="106.25" width="2.80" height="5.90" fill="#c7c6cb"/>
<rect x="222.76" y="106.25" width="2.80" height="5.90" fill="#c7c6cb"/>
<rect x="227.12" y="106.25" width="2.80" height="5.90" fill="#c7c6cb"/>
<rect x="231.48" y="106.25" width="2.80" height="5.90" fill="#c7c6cb"/>
<rect x="235.84" y="106.25" width="2.80" height="5.90" fill="#c7c6cb"/>
<rect x="240.20" y="106.25" width="2.80" height="5.90" fill="#c7c6cb"/>
<text x="6.60" y="111.50" font-size="6.6" fill="#262626" textLength="19.30" lengthAdjust="spacingAndGlyphs" stroke="#262626" stroke-width="0.1">SF3B1</text>
<text x="43.40" y="111.50" font-size="6.5" fill="#262626" stroke="#262626" stroke-width="0.1">10%</text>
<rect x="65.80" y="114.61" width="2.80" height="5.90" fill="#c7c6cb"/>
<rect x="69.96" y="115.31" width="3.20" height="4.50" fill="#3c0f5b"/>
<rect x="74.52" y="114.61" width="2.80" height="5.90" fill="#c7c6cb"/>
<rect x="78.88" y="114.61" width="2.80" height="5.90" fill="#c7c6cb"/>
<rect x="83.24" y="114.61" width="2.80" height="5.90" fill="#c7c6cb"/>
<rect x="87.60" y="114.61" width="2.80" height="5.90" fill="#c7c6cb"/>
<rect x="91.96" y="114.61" width="2.80" height="5.90" fill="#c7c6cb"/>
<rect x="96.12" y="115.31" width="3.20" height="4.50" fill="#3c0f5b"/>
<rect x="100.48" y="115.31" width="3.20" height="4.50" fill="#3c0f5b"/>
<rect x="105.04" y="114.61" width="2.80" height="5.90" fill="#c7c6cb"/>
<rect x="109.40" y="114.61" width="2.80" height="5.90" fill="#c7c6cb"/>
<rect x="113.76" y="114.61" width="2.80" height="5.90" fill="#c7c6cb"/>
<rect x="118.12" y="114.61" width="2.80" height="5.90" fill="#c7c6cb"/>
<rect x="122.48" y="114.61" width="2.80" height="5.90" fill="#c7c6cb"/>
<rect x="126.84" y="114.61" width="2.80" height="5.90" fill="#c7c6cb"/>
<rect x="131.20" y="114.61" width="2.80" height="5.90" fill="#c7c6cb"/>
<rect x="135.56" y="114.61" width="2.80" height="5.90" fill="#c7c6cb"/>
<rect x="139.92" y="114.61" width="2.80" height="5.90" fill="#c7c6cb"/>
<rect x="144.28" y="114.61" width="2.80" height="5.90" fill="#c7c6cb"/>
<rect x="148.64" y="114.61" width="2.80" height="5.90" fill="#c7c6cb"/>
<rect x="153.00" y="114.61" width="2.80" height="5.90" fill="#c7c6cb"/>
<rect x="157.36" y="114.61" width="2.80" height="5.90" fill="#c7c6cb"/>
<rect x="161.72" y="114.61" width="2.80" height="5.90" fill="#c7c6cb"/>
<rect x="166.08" y="114.61" width="2.80" height="5.90" fill="#c7c6cb"/>
<rect x="170.44" y="114.61" width="2.80" height="5.90" fill="#c7c6cb"/>
<rect x="174.80" y="114.61" width="2.80" height="5.90" fill="#c7c6cb"/>
<rect x="179.16" y="114.61" width="2.80" height="5.90" fill="#c7c6cb"/>
<rect x="183.52" y="114.61" width="2.80" height="5.90" fill="#c7c6cb"/>
<rect x="187.88" y="114.61" width="2.80" height="5.90" fill="#c7c6cb"/>
<rect x="192.24" y="114.61" width="2.80" height="5.90" fill="#c7c6cb"/>
<rect x="196.60" y="114.61" width="2.80" height="5.90" fill="#c7c6cb"/>
<rect x="200.96" y="114.61" width="2.80" height="5.90" fill="#c7c6cb"/>
<rect x="205.32" y="114.61" width="2.80" height="5.90" fill="#c7c6cb"/>
<rect x="209.48" y="115.31" width="3.20" height="4.50" fill="#3c0f5b"/>
<rect x="214.04" y="114.61" width="2.80" height="5.90" fill="#c7c6cb"/>
<rect x="218.40" y="114.61" width="2.80" height="5.90" fill="#c7c6cb"/>
<rect x="222.76" y="114.61" width="2.80" height="5.90" fill="#c7c6cb"/>
<rect x="227.12" y="114.61" width="2.80" height="5.90" fill="#c7c6cb"/>
<rect x="231.48" y="114.61" width="2.80" height="5.90" fill="#c7c6cb"/>
<rect x="235.84" y="114.61" width="2.80" height="5.90" fill="#c7c6cb"/>
<rect x="240.20" y="114.61" width="2.80" height="5.90" fill="#c7c6cb"/>
<text x="6.60" y="119.86" font-size="6.6" fill="#262626" textLength="14.30" lengthAdjust="spacingAndGlyphs" stroke="#262626" stroke-width="0.1">FLT3</text>
<text x="43.40" y="119.86" font-size="6.5" fill="#262626" stroke="#262626" stroke-width="0.1">10%</text>
<rect x="65.80" y="122.97" width="2.80" height="5.90" fill="#c7c6cb"/>
<rect x="69.96" y="123.67" width="3.20" height="4.50" fill="#3c0f5b"/>
<rect x="74.52" y="122.97" width="2.80" height="5.90" fill="#c7c6cb"/>
<rect x="78.88" y="122.97" width="2.80" height="5.90" fill="#c7c6cb"/>
<rect x="83.24" y="122.97" width="2.80" height="5.90" fill="#c7c6cb"/>
<rect x="87.60" y="122.97" width="2.80" height="5.90" fill="#c7c6cb"/>
<rect x="91.96" y="122.97" width="2.80" height="5.90" fill="#c7c6cb"/>
<rect x="96.32" y="122.97" width="2.80" height="5.90" fill="#c7c6cb"/>
<rect x="100.68" y="122.97" width="2.80" height="5.90" fill="#c7c6cb"/>
<rect x="105.04" y="122.97" width="2.80" height="5.90" fill="#c7c6cb"/>
<rect x="109.40" y="122.97" width="2.80" height="5.90" fill="#c7c6cb"/>
<rect x="113.76" y="122.97" width="2.80" height="5.90" fill="#c7c6cb"/>
<rect x="118.12" y="122.97" width="2.80" height="5.90" fill="#c7c6cb"/>
<rect x="122.48" y="122.97" width="2.80" height="5.90" fill="#c7c6cb"/>
<rect x="126.84" y="122.97" width="2.80" height="5.90" fill="#c7c6cb"/>
<rect x="131.20" y="122.97" width="2.80" height="5.90" fill="#c7c6cb"/>
<rect x="135.56" y="122.97" width="2.80" height="5.90" fill="#c7c6cb"/>
<rect x="139.92" y="122.97" width="2.80" height="5.90" fill="#c7c6cb"/>
<rect x="144.28" y="122.97" width="2.80" height="5.90" fill="#c7c6cb"/>
<rect x="148.64" y="122.97" width="2.80" height="5.90" fill="#c7c6cb"/>
<rect x="153.00" y="122.97" width="2.80" height="5.90" fill="#c7c6cb"/>
<rect x="157.36" y="122.97" width="2.80" height="5.90" fill="#c7c6cb"/>
<rect x="161.72" y="122.97" width="2.80" height="5.90" fill="#c7c6cb"/>
<rect x="166.08" y="122.97" width="2.80" height="5.90" fill="#c7c6cb"/>
<rect x="170.44" y="122.97" width="2.80" height="5.90" fill="#c7c6cb"/>
<rect x="174.80" y="122.97" width="2.80" height="5.90" fill="#c7c6cb"/>
<rect x="179.16" y="122.97" width="2.80" height="5.90" fill="#c7c6cb"/>
<rect x="183.52" y="122.97" width="2.80" height="5.90" fill="#c7c6cb"/>
<rect x="187.88" y="122.97" width="2.80" height="5.90" fill="#c7c6cb"/>
<rect x="192.24" y="122.97" width="2.80" height="5.90" fill="#c7c6cb"/>
<rect x="196.60" y="122.97" width="2.80" height="5.90" fill="#c7c6cb"/>
<rect x="200.96" y="122.97" width="2.80" height="5.90" fill="#c7c6cb"/>
<rect x="205.12" y="123.67" width="3.20" height="4.50" fill="#3c0f5b"/>
<rect x="209.68" y="122.97" width="2.80" height="5.90" fill="#c7c6cb"/>
<rect x="214.04" y="122.97" width="2.80" height="5.90" fill="#c7c6cb"/>
<rect x="218.40" y="122.97" width="2.80" height="5.90" fill="#c7c6cb"/>
<rect x="222.56" y="123.67" width="3.20" height="4.50" fill="#3c0f5b"/>
<rect x="227.12" y="122.97" width="2.80" height="5.90" fill="#c7c6cb"/>
<rect x="231.48" y="122.97" width="2.80" height="5.90" fill="#c7c6cb"/>
<rect x="235.84" y="122.97" width="2.80" height="5.90" fill="#c7c6cb"/>
<rect x="240.00" y="123.67" width="3.20" height="4.50" fill="#3c0f5b"/>
<text x="6.60" y="128.22" font-size="6.6" fill="#262626" textLength="15.00" lengthAdjust="spacingAndGlyphs" stroke="#262626" stroke-width="0.1">TP53</text>
<text x="43.40" y="128.22" font-size="6.5" fill="#262626" stroke="#262626" stroke-width="0.1">10%</text>
<rect x="65.80" y="131.33" width="2.80" height="5.90" fill="#c7c6cb"/>
<rect x="69.96" y="132.03" width="3.20" height="4.50" fill="#3c0f5b"/>
<rect x="74.52" y="131.33" width="2.80" height="5.90" fill="#c7c6cb"/>
<rect x="78.88" y="131.33" width="2.80" height="5.90" fill="#c7c6cb"/>
<rect x="83.24" y="131.33" width="2.80" height="5.90" fill="#c7c6cb"/>
<rect x="87.40" y="132.03" width="3.20" height="4.50" fill="#3c0f5b"/>
<rect x="91.96" y="131.33" width="2.80" height="5.90" fill="#c7c6cb"/>
<rect x="96.32" y="131.33" width="2.80" height="5.90" fill="#c7c6cb"/>
<rect x="100.68" y="131.33" width="2.80" height="5.90" fill="#c7c6cb"/>
<rect x="105.04" y="131.33" width="2.80" height="5.90" fill="#c7c6cb"/>
<rect x="109.40" y="131.33" width="2.80" height="5.90" fill="#c7c6cb"/>
<rect x="113.76" y="131.33" width="2.80" height="5.90" fill="#c7c6cb"/>
<rect x="117.92" y="132.03" width="3.20" height="4.50" fill="#3c0f5b"/>
<rect x="122.48" y="131.33" width="2.80" height="5.90" fill="#c7c6cb"/>
<rect x="126.84" y="131.33" width="2.80" height="5.90" fill="#c7c6cb"/>
<rect x="131.20" y="131.33" width="2.80" height="5.90" fill="#c7c6cb"/>
<rect x="135.56" y="131.33" width="2.80" height="5.90" fill="#c7c6cb"/>
<rect x="139.92" y="131.33" width="2.80" height="5.90" fill="#c7c6cb"/>
<rect x="144.28" y="131.33" width="2.80" height="5.90" fill="#c7c6cb"/>
<rect x="148.64" y="131.33" width="2.80" height="5.90" fill="#c7c6cb"/>
<rect x="153.00" y="131.33" width="2.80" height="5.90" fill="#c7c6cb"/>
<rect x="157.36" y="131.33" width="2.80" height="5.90" fill="#c7c6cb"/>
<rect x="161.72" y="131.33" width="2.80" height="5.90" fill="#c7c6cb"/>
<rect x="166.08" y="131.33" width="2.80" height="5.90" fill="#c7c6cb"/>
<rect x="170.44" y="131.33" width="2.80" height="5.90" fill="#c7c6cb"/>
<rect x="174.80" y="131.33" width="2.80" height="5.90" fill="#c7c6cb"/>
<rect x="179.16" y="131.33" width="2.80" height="5.90" fill="#c7c6cb"/>
<rect x="183.52" y="131.33" width="2.80" height="5.90" fill="#c7c6cb"/>
<rect x="187.88" y="131.33" width="2.80" height="5.90" fill="#c7c6cb"/>
<rect x="192.24" y="131.33" width="2.80" height="5.90" fill="#c7c6cb"/>
<rect x="196.60" y="131.33" width="2.80" height="5.90" fill="#c7c6cb"/>
<rect x="200.96" y="131.33" width="2.80" height="5.90" fill="#c7c6cb"/>
<rect x="205.32" y="131.33" width="2.80" height="5.90" fill="#c7c6cb"/>
<rect x="209.68" y="131.33" width="2.80" height="5.90" fill="#c7c6cb"/>
<rect x="214.04" y="131.33" width="2.80" height="5.90" fill="#c7c6cb"/>
<rect x="218.40" y="131.33" width="2.80" height="5.90" fill="#c7c6cb"/>
<rect x="222.76" y="131.33" width="2.80" height="5.90" fill="#c7c6cb"/>
<rect x="227.12" y="131.33" width="2.80" height="5.90" fill="#c7c6cb"/>
<rect x="231.48" y="131.33" width="2.80" height="5.90" fill="#c7c6cb"/>
<rect x="235.84" y="131.33" width="2.80" height="5.90" fill="#c7c6cb"/>
<rect x="240.20" y="131.33" width="2.80" height="5.90" fill="#c7c6cb"/>
<text x="6.60" y="136.58" font-size="6.6" fill="#262626" textLength="18.70" lengthAdjust="spacingAndGlyphs" stroke="#262626" stroke-width="0.1">BCOR</text>
<text x="43.40" y="136.58" font-size="6.5" fill="#262626" stroke="#262626" stroke-width="0.1">7%</text>
<rect x="65.80" y="139.69" width="2.80" height="5.90" fill="#c7c6cb"/>
<rect x="70.16" y="139.69" width="2.80" height="5.90" fill="#c7c6cb"/>
<rect x="74.52" y="139.69" width="2.80" height="5.90" fill="#c7c6cb"/>
<rect x="78.88" y="139.69" width="2.80" height="5.90" fill="#c7c6cb"/>
<rect x="83.24" y="139.69" width="2.80" height="5.90" fill="#c7c6cb"/>
<rect x="87.60" y="139.69" width="2.80" height="5.90" fill="#c7c6cb"/>
<rect x="91.96" y="139.69" width="2.80" height="5.90" fill="#c7c6cb"/>
<rect x="96.32" y="139.69" width="2.80" height="5.90" fill="#c7c6cb"/>
<rect x="100.68" y="139.69" width="2.80" height="5.90" fill="#c7c6cb"/>
<rect x="104.84" y="140.39" width="3.20" height="4.50" fill="#3c0f5b"/>
<rect x="109.40" y="139.69" width="2.80" height="5.90" fill="#c7c6cb"/>
<rect x="113.56" y="140.39" width="3.20" height="4.50" fill="#3c0f5b"/>
<rect x="118.12" y="139.69" width="2.80" height="5.90" fill="#c7c6cb"/>
<rect x="122.48" y="139.69" width="2.80" height="5.90" fill="#c7c6cb"/>
<rect x="126.84" y="139.69" width="2.80" height="5.90" fill="#c7c6cb"/>
<rect x="131.20" y="139.69" width="2.80" height="5.90" fill="#c7c6cb"/>
<rect x="135.56" y="139.69" width="2.80" height="5.90" fill="#c7c6cb"/>
<rect x="139.92" y="139.69" width="2.80" height="5.90" fill="#c7c6cb"/>
<rect x="144.28" y="139.69" width="2.80" height="5.90" fill="#c7c6cb"/>
<rect x="148.64" y="139.69" width="2.80" height="5.90" fill="#c7c6cb"/>
<rect x="153.00" y="139.69" width="2.80" height="5.90" fill="#c7c6cb"/>
<rect x="157.36" y="139.69" width="2.80" height="5.90" fill="#c7c6cb"/>
<rect x="161.72" y="139.69" width="2.80" height="5.90" fill="#c7c6cb"/>
<rect x="166.08" y="139.69" width="2.80" height="5.90" fill="#c7c6cb"/>
<rect x="170.44" y="139.69" width="2.80" height="5.90" fill="#c7c6cb"/>
<rect x="174.80" y="139.69" width="2.80" height="5.90" fill="#c7c6cb"/>
<rect x="179.16" y="139.69" width="2.80" height="5.90" fill="#c7c6cb"/>
<rect x="183.32" y="140.39" width="3.20" height="4.50" fill="#3c0f5b"/>
<rect x="187.88" y="139.69" width="2.80" height="5.90" fill="#c7c6cb"/>
<rect x="192.24" y="139.69" width="2.80" height="5.90" fill="#c7c6cb"/>
<rect x="196.60" y="139.69" width="2.80" height="5.90" fill="#c7c6cb"/>
<rect x="200.96" y="139.69" width="2.80" height="5.90" fill="#c7c6cb"/>
<rect x="205.32" y="139.69" width="2.80" height="5.90" fill="#c7c6cb"/>
<rect x="209.68" y="139.69" width="2.80" height="5.90" fill="#c7c6cb"/>
<rect x="214.04" y="139.69" width="2.80" height="5.90" fill="#c7c6cb"/>
<rect x="218.40" y="139.69" width="2.80" height="5.90" fill="#c7c6cb"/>
<rect x="222.76" y="139.69" width="2.80" height="5.90" fill="#c7c6cb"/>
<rect x="227.12" y="139.69" width="2.80" height="5.90" fill="#c7c6cb"/>
<rect x="231.48" y="139.69" width="2.80" height="5.90" fill="#c7c6cb"/>
<rect x="235.84" y="139.69" width="2.80" height="5.90" fill="#c7c6cb"/>
<rect x="240.20" y="139.69" width="2.80" height="5.90" fill="#c7c6cb"/>
<text x="6.60" y="144.94" font-size="6.6" fill="#262626" textLength="19.80" lengthAdjust="spacingAndGlyphs" stroke="#262626" stroke-width="0.1">U2AF1</text>
<text x="43.40" y="144.94" font-size="6.5" fill="#262626" stroke="#262626" stroke-width="0.1">7%</text>
<rect x="65.80" y="148.05" width="2.80" height="5.90" fill="#c7c6cb"/>
<rect x="70.16" y="148.05" width="2.80" height="5.90" fill="#c7c6cb"/>
<rect x="74.52" y="148.05" width="2.80" height="5.90" fill="#c7c6cb"/>
<rect x="78.88" y="148.05" width="2.80" height="5.90" fill="#c7c6cb"/>
<rect x="83.24" y="148.05" width="2.80" height="5.90" fill="#c7c6cb"/>
<rect x="87.60" y="148.05" width="2.80" height="5.90" fill="#c7c6cb"/>
<rect x="91.96" y="148.05" width="2.80" height="5.90" fill="#c7c6cb"/>
<rect x="96.32" y="148.05" width="2.80" height="5.90" fill="#c7c6cb"/>
<rect x="100.68" y="148.05" width="2.80" height="5.90" fill="#c7c6cb"/>
<rect x="105.04" y="148.05" width="2.80" height="5.90" fill="#c7c6cb"/>
<rect x="109.20" y="148.75" width="3.20" height="4.50" fill="#3c0f5b"/>
<rect x="113.76" y="148.05" width="2.80" height="5.90" fill="#c7c6cb"/>
<rect x="118.12" y="148.05" width="2.80" height="5.90" fill="#c7c6cb"/>
<rect x="122.48" y="148.05" width="2.80" height="5.90" fill="#c7c6cb"/>
<rect x="126.84" y="148.05" width="2.80" height="5.90" fill="#c7c6cb"/>
<rect x="131.20" y="148.05" width="2.80" height="5.90" fill="#c7c6cb"/>
<rect x="135.56" y="148.05" width="2.80" height="5.90" fill="#c7c6cb"/>
<rect x="139.92" y="148.05" width="2.80" height="5.90" fill="#c7c6cb"/>
<rect x="144.28" y="148.05" width="2.80" height="5.90" fill="#c7c6cb"/>
<rect x="148.64" y="148.05" width="2.80" height="5.90" fill="#c7c6cb"/>
<rect x="153.00" y="148.05" width="2.80" height="5.90" fill="#c7c6cb"/>
<rect x="157.36" y="148.05" width="2.80" height="5.90" fill="#c7c6cb"/>
<rect x="161.72" y="148.05" width="2.80" height="5.90" fill="#c7c6cb"/>
<rect x="166.08" y="148.05" width="2.80" height="5.90" fill="#c7c6cb"/>
<rect x="170.44" y="148.05" width="2.80" height="5.90" fill="#c7c6cb"/>
<rect x="174.80" y="148.05" width="2.80" height="5.90" fill="#c7c6cb"/>
<rect x="179.16" y="148.05" width="2.80" height="5.90" fill="#c7c6cb"/>
<rect x="183.52" y="148.05" width="2.80" height="5.90" fill="#c7c6cb"/>
<rect x="187.88" y="148.05" width="2.80" height="5.90" fill="#c7c6cb"/>
<rect x="192.24" y="148.05" width="2.80" height="5.90" fill="#c7c6cb"/>
<rect x="196.60" y="148.05" width="2.80" height="5.90" fill="#c7c6cb"/>
<rect x="200.96" y="148.05" width="2.80" height="5.90" fill="#c7c6cb"/>
<rect x="205.32" y="148.05" width="2.80" height="5.90" fill="#c7c6cb"/>
<rect x="209.68" y="148.05" width="2.80" height="5.90" fill="#c7c6cb"/>
<rect x="214.04" y="148.05" width="2.80" height="5.90" fill="#c7c6cb"/>
<rect x="218.40" y="148.05" width="2.80" height="5.90" fill="#c7c6cb"/>
<rect x="222.76" y="148.05" width="2.80" height="5.90" fill="#c7c6cb"/>
<rect x="227.12" y="148.05" width="2.80" height="5.90" fill="#c7c6cb"/>
<rect x="231.48" y="148.05" width="2.80" height="5.90" fill="#c7c6cb"/>
<rect x="235.64" y="148.75" width="3.20" height="4.50" fill="#3c0f5b"/>
<rect x="240.20" y="148.05" width="2.80" height="5.90" fill="#c7c6cb"/>
<text x="6.60" y="153.30" font-size="6.6" fill="#262626" textLength="16.50" lengthAdjust="spacingAndGlyphs" stroke="#262626" stroke-width="0.1">EZH2</text>
<text x="43.40" y="153.30" font-size="6.5" fill="#262626" stroke="#262626" stroke-width="0.1">5%</text>
<rect x="65.80" y="156.41" width="2.80" height="5.90" fill="#c7c6cb"/>
<rect x="70.16" y="156.41" width="2.80" height="5.90" fill="#c7c6cb"/>
<rect x="74.52" y="156.41" width="2.80" height="5.90" fill="#c7c6cb"/>
<rect x="78.88" y="156.41" width="2.80" height="5.90" fill="#c7c6cb"/>
<rect x="83.24" y="156.41" width="2.80" height="5.90" fill="#c7c6cb"/>
<rect x="87.60" y="156.41" width="2.80" height="5.90" fill="#c7c6cb"/>
<rect x="91.96" y="156.41" width="2.80" height="5.90" fill="#c7c6cb"/>
<rect x="96.32" y="156.41" width="2.80" height="5.90" fill="#c7c6cb"/>
<rect x="100.68" y="156.41" width="2.80" height="5.90" fill="#c7c6cb"/>
<rect x="105.04" y="156.41" width="2.80" height="5.90" fill="#c7c6cb"/>
<rect x="109.40" y="156.41" width="2.80" height="5.90" fill="#c7c6cb"/>
<rect x="113.76" y="156.41" width="2.80" height="5.90" fill="#c7c6cb"/>
<rect x="118.12" y="156.41" width="2.80" height="5.90" fill="#c7c6cb"/>
<rect x="122.48" y="156.41" width="2.80" height="5.90" fill="#c7c6cb"/>
<rect x="126.84" y="156.41" width="2.80" height="5.90" fill="#c7c6cb"/>
<rect x="131.20" y="156.41" width="2.80" height="5.90" fill="#c7c6cb"/>
<rect x="135.56" y="156.41" width="2.80" height="5.90" fill="#c7c6cb"/>
<rect x="139.92" y="156.41" width="2.80" height="5.90" fill="#c7c6cb"/>
<rect x="144.28" y="156.41" width="2.80" height="5.90" fill="#c7c6cb"/>
<rect x="148.64" y="156.41" width="2.80" height="5.90" fill="#c7c6cb"/>
<rect x="152.80" y="157.11" width="3.20" height="4.50" fill="#3c0f5b"/>
<rect x="157.36" y="156.41" width="2.80" height="5.90" fill="#c7c6cb"/>
<rect x="161.72" y="156.41" width="2.80" height="5.90" fill="#c7c6cb"/>
<rect x="166.08" y="156.41" width="2.80" height="5.90" fill="#c7c6cb"/>
<rect x="170.44" y="156.41" width="2.80" height="5.90" fill="#c7c6cb"/>
<rect x="174.80" y="156.41" width="2.80" height="5.90" fill="#c7c6cb"/>
<rect x="179.16" y="156.41" width="2.80" height="5.90" fill="#c7c6cb"/>
<rect x="183.52" y="156.41" width="2.80" height="5.90" fill="#c7c6cb"/>
<rect x="187.88" y="156.41" width="2.80" height="5.90" fill="#c7c6cb"/>
<rect x="192.24" y="156.41" width="2.80" height="5.90" fill="#c7c6cb"/>
<rect x="196.60" y="156.41" width="2.80" height="5.90" fill="#c7c6cb"/>
<rect x="200.96" y="156.41" width="2.80" height="5.90" fill="#c7c6cb"/>
<rect x="205.32" y="156.41" width="2.80" height="5.90" fill="#c7c6cb"/>
<rect x="209.68" y="156.41" width="2.80" height="5.90" fill="#c7c6cb"/>
<rect x="214.04" y="156.41" width="2.80" height="5.90" fill="#c7c6cb"/>
<rect x="218.40" y="156.41" width="2.80" height="5.90" fill="#c7c6cb"/>
<rect x="222.76" y="156.41" width="2.80" height="5.90" fill="#c7c6cb"/>
<rect x="227.12" y="156.41" width="2.80" height="5.90" fill="#c7c6cb"/>
<rect x="231.48" y="156.41" width="2.80" height="5.90" fill="#c7c6cb"/>
<rect x="235.64" y="157.11" width="3.20" height="4.50" fill="#3c0f5b"/>
<rect x="240.20" y="156.41" width="2.80" height="5.90" fill="#c7c6cb"/>
<text x="6.60" y="161.66" font-size="6.6" fill="#262626" textLength="17.20" lengthAdjust="spacingAndGlyphs" stroke="#262626" stroke-width="0.1">KRAS</text>
<text x="43.40" y="161.66" font-size="6.5" fill="#262626" stroke="#262626" stroke-width="0.1">5%</text>
<rect x="65.80" y="164.77" width="2.80" height="5.90" fill="#c7c6cb"/>
<rect x="70.16" y="164.77" width="2.80" height="5.90" fill="#c7c6cb"/>
<rect x="74.52" y="164.77" width="2.80" height="5.90" fill="#c7c6cb"/>
<rect x="78.88" y="164.77" width="2.80" height="5.90" fill="#c7c6cb"/>
<rect x="83.24" y="164.77" width="2.80" height="5.90" fill="#c7c6cb"/>
<rect x="87.60" y="164.77" width="2.80" height="5.90" fill="#c7c6cb"/>
<rect x="91.96" y="164.77" width="2.80" height="5.90" fill="#c7c6cb"/>
<rect x="96.32" y="164.77" width="2.80" height="5.90" fill="#c7c6cb"/>
<rect x="100.68" y="164.77" width="2.80" height="5.90" fill="#c7c6cb"/>
<rect x="105.04" y="164.77" width="2.80" height="5.90" fill="#c7c6cb"/>
<rect x="109.40" y="164.77" width="2.80" height="5.90" fill="#c7c6cb"/>
<rect x="113.76" y="164.77" width="2.80" height="5.90" fill="#c7c6cb"/>
<rect x="118.12" y="164.77" width="2.80" height="5.90" fill="#c7c6cb"/>
<rect x="122.48" y="164.77" width="2.80" height="5.90" fill="#c7c6cb"/>
<rect x="126.84" y="164.77" width="2.80" height="5.90" fill="#c7c6cb"/>
<rect x="131.20" y="164.77" width="2.80" height="5.90" fill="#c7c6cb"/>
<rect x="135.56" y="164.77" width="2.80" height="5.90" fill="#c7c6cb"/>
<rect x="139.92" y="164.77" width="2.80" height="5.90" fill="#c7c6cb"/>
<rect x="144.28" y="164.77" width="2.80" height="5.90" fill="#c7c6cb"/>
<rect x="148.64" y="164.77" width="2.80" height="5.90" fill="#c7c6cb"/>
<rect x="153.00" y="164.77" width="2.80" height="5.90" fill="#c7c6cb"/>
<rect x="157.36" y="164.77" width="2.80" height="5.90" fill="#c7c6cb"/>
<rect x="161.72" y="164.77" width="2.80" height="5.90" fill="#c7c6cb"/>
<rect x="165.88" y="165.47" width="3.20" height="4.50" fill="#3c0f5b"/>
<rect x="170.44" y="164.77" width="2.80" height="5.90" fill="#c7c6cb"/>
<rect x="174.60" y="165.47" width="3.20" height="4.50" fill="#3c0f5b"/>
<rect x="179.16" y="164.77" width="2.80" height="5.90" fill="#c7c6cb"/>
<rect x="183.52" y="164.77" width="2.80" height="5.90" fill="#c7c6cb"/>
<rect x="187.88" y="164.77" width="2.80" height="5.90" fill="#c7c6cb"/>
<rect x="192.24" y="164.77" width="2.80" height="5.90" fill="#c7c6cb"/>
<rect x="196.60" y="164.77" width="2.80" height="5.90" fill="#c7c6cb"/>
<rect x="200.96" y="164.77" width="2.80" height="5.90" fill="#c7c6cb"/>
<rect x="205.32" y="164.77" width="2.80" height="5.90" fill="#c7c6cb"/>
<rect x="209.68" y="164.77" width="2.80" height="5.90" fill="#c7c6cb"/>
<rect x="214.04" y="164.77" width="2.80" height="5.90" fill="#c7c6cb"/>
<rect x="218.40" y="164.77" width="2.80" height="5.90" fill="#c7c6cb"/>
<rect x="222.76" y="164.77" width="2.80" height="5.90" fill="#c7c6cb"/>
<rect x="227.12" y="164.77" width="2.80" height="5.90" fill="#c7c6cb"/>
<rect x="231.48" y="164.77" width="2.80" height="5.90" fill="#c7c6cb"/>
<rect x="235.84" y="164.77" width="2.80" height="5.90" fill="#c7c6cb"/>
<rect x="240.20" y="164.77" width="2.80" height="5.90" fill="#c7c6cb"/>
<text x="6.60" y="170.02" font-size="6.6" fill="#262626" textLength="23.80" lengthAdjust="spacingAndGlyphs" stroke="#262626" stroke-width="0.1">PTPN11</text>
<text x="43.40" y="170.02" font-size="6.5" fill="#262626" stroke="#262626" stroke-width="0.1">5%</text>
<rect x="65.80" y="173.13" width="2.80" height="5.90" fill="#c7c6cb"/>
<rect x="69.96" y="173.83" width="3.20" height="4.50" fill="#3c0f5b"/>
<rect x="74.52" y="173.13" width="2.80" height="5.90" fill="#c7c6cb"/>
<rect x="78.88" y="173.13" width="2.80" height="5.90" fill="#c7c6cb"/>
<rect x="83.24" y="173.13" width="2.80" height="5.90" fill="#c7c6cb"/>
<rect x="87.60" y="173.13" width="2.80" height="5.90" fill="#c7c6cb"/>
<rect x="91.96" y="173.13" width="2.80" height="5.90" fill="#c7c6cb"/>
<rect x="96.32" y="173.13" width="2.80" height="5.90" fill="#c7c6cb"/>
<rect x="100.68" y="173.13" width="2.80" height="5.90" fill="#c7c6cb"/>
<rect x="105.04" y="173.13" width="2.80" height="5.90" fill="#c7c6cb"/>
<rect x="109.40" y="173.13" width="2.80" height="5.90" fill="#c7c6cb"/>
<rect x="113.76" y="173.13" width="2.80" height="5.90" fill="#c7c6cb"/>
<rect x="118.12" y="173.13" width="2.80" height="5.90" fill="#c7c6cb"/>
<rect x="122.48" y="173.13" width="2.80" height="5.90" fill="#c7c6cb"/>
<rect x="126.84" y="173.13" width="2.80" height="5.90" fill="#c7c6cb"/>
<rect x="131.20" y="173.13" width="2.80" height="5.90" fill="#c7c6cb"/>
<rect x="135.56" y="173.13" width="2.80" height="5.90" fill="#c7c6cb"/>
<rect x="139.92" y="173.13" width="2.80" height="5.90" fill="#c7c6cb"/>
<rect x="144.28" y="173.13" width="2.80" height="5.90" fill="#c7c6cb"/>
<rect x="148.64" y="173.13" width="2.80" height="5.90" fill="#c7c6cb"/>
<rect x="153.00" y="173.13" width="2.80" height="5.90" fill="#c7c6cb"/>
<rect x="157.36" y="173.13" width="2.80" height="5.90" fill="#c7c6cb"/>
<rect x="161.72" y="173.13" width="2.80" height="5.90" fill="#c7c6cb"/>
<rect x="166.08" y="173.13" width="2.80" height="5.90" fill="#c7c6cb"/>
<rect x="170.44" y="173.13" width="2.80" height="5.90" fill="#c7c6cb"/>
<rect x="174.80" y="173.13" width="2.80" height="5.90" fill="#c7c6cb"/>
<rect x="179.16" y="173.13" width="2.80" height="5.90" fill="#c7c6cb"/>
<rect x="183.52" y="173.13" width="2.80" height="5.90" fill="#c7c6cb"/>
<rect x="187.88" y="173.13" width="2.80" height="5.90" fill="#c7c6cb"/>
<rect x="192.24" y="173.13" width="2.80" height="5.90" fill="#c7c6cb"/>
<rect x="196.60" y="173.13" width="2.80" height="5.90" fill="#c7c6cb"/>
<rect x="200.96" y="173.13" width="2.80" height="5.90" fill="#c7c6cb"/>
<rect x="205.12" y="173.83" width="3.20" height="4.50" fill="#3c0f5b"/>
<rect x="209.68" y="173.13" width="2.80" height="5.90" fill="#c7c6cb"/>
<rect x="214.04" y="173.13" width="2.80" height="5.90" fill="#c7c6cb"/>
<rect x="218.40" y="173.13" width="2.80" height="5.90" fill="#c7c6cb"/>
<rect x="222.76" y="173.13" width="2.80" height="5.90" fill="#c7c6cb"/>
<rect x="227.12" y="173.13" width="2.80" height="5.90" fill="#c7c6cb"/>
<rect x="231.48" y="173.13" width="2.80" height="5.90" fill="#c7c6cb"/>
<rect x="235.84" y="173.13" width="2.80" height="5.90" fill="#c7c6cb"/>
<rect x="240.20" y="173.13" width="2.80" height="5.90" fill="#c7c6cb"/>
<text x="6.60" y="178.38" font-size="6.6" fill="#262626" textLength="23.10" lengthAdjust="spacingAndGlyphs" stroke="#262626" stroke-width="0.1">SETBP1</text>
<text x="43.40" y="178.38" font-size="6.5" fill="#262626" stroke="#262626" stroke-width="0.1">5%</text>
<rect x="65.80" y="181.49" width="2.80" height="5.90" fill="#c7c6cb"/>
<rect x="70.16" y="181.49" width="2.80" height="5.90" fill="#c7c6cb"/>
<rect x="74.52" y="181.49" width="2.80" height="5.90" fill="#c7c6cb"/>
<rect x="78.88" y="181.49" width="2.80" height="5.90" fill="#c7c6cb"/>
<rect x="83.24" y="181.49" width="2.80" height="5.90" fill="#c7c6cb"/>
<rect x="87.60" y="181.49" width="2.80" height="5.90" fill="#c7c6cb"/>
<rect x="91.96" y="181.49" width="2.80" height="5.90" fill="#c7c6cb"/>
<rect x="96.32" y="181.49" width="2.80" height="5.90" fill="#c7c6cb"/>
<rect x="100.68" y="181.49" width="2.80" height="5.90" fill="#c7c6cb"/>
<rect x="105.04" y="181.49" width="2.80" height="5.90" fill="#c7c6cb"/>
<rect x="109.20" y="182.19" width="3.20" height="4.50" fill="#3c0f5b"/>
<rect x="113.76" y="181.49" width="2.80" height="5.90" fill="#c7c6cb"/>
<rect x="118.12" y="181.49" width="2.80" height="5.90" fill="#c7c6cb"/>
<rect x="122.48" y="181.49" width="2.80" height="5.90" fill="#c7c6cb"/>
<rect x="126.84" y="181.49" width="2.80" height="5.90" fill="#c7c6cb"/>
<rect x="131.20" y="181.49" width="2.80" height="5.90" fill="#c7c6cb"/>
<rect x="135.56" y="181.49" width="2.80" height="5.90" fill="#c7c6cb"/>
<rect x="139.92" y="181.49" width="2.80" height="5.90" fill="#c7c6cb"/>
<rect x="144.28" y="181.49" width="2.80" height="5.90" fill="#c7c6cb"/>
<rect x="148.64" y="181.49" width="2.80" height="5.90" fill="#c7c6cb"/>
<rect x="153.00" y="181.49" width="2.80" height="5.90" fill="#c7c6cb"/>
<rect x="157.36" y="181.49" width="2.80" height="5.90" fill="#c7c6cb"/>
<rect x="161.72" y="181.49" width="2.80" height="5.90" fill="#c7c6cb"/>
<rect x="166.08" y="181.49" width="2.80" height="5.90" fill="#c7c6cb"/>
<rect x="170.44" y="181.49" width="2.80" height="5.90" fill="#c7c6cb"/>
<rect x="174.80" y="181.49" width="2.80" height="5.90" fill="#c7c6cb"/>
<rect x="179.16" y="181.49" width="2.80" height="5.90" fill="#c7c6cb"/>
<rect x="183.52" y="181.49" width="2.80" height="5.90" fill="#c7c6cb"/>
<rect x="187.88" y="181.49" width="2.80" height="5.90" fill="#c7c6cb"/>
<rect x="192.24" y="181.49" width="2.80" height="5.90" fill="#c7c6cb"/>
<rect x="196.40" y="182.19" width="3.20" height="4.50" fill="#3c0f5b"/>
<rect x="200.96" y="181.49" width="2.80" height="5.90" fill="#c7c6cb"/>
<rect x="205.32" y="181.49" width="2.80" height="5.90" fill="#c7c6cb"/>
<rect x="209.68" y="181.49" width="2.80" height="5.90" fill="#c7c6cb"/>
<rect x="214.04" y="181.49" width="2.80" height="5.90" fill="#c7c6cb"/>
<rect x="218.40" y="181.49" width="2.80" height="5.90" fill="#c7c6cb"/>
<rect x="222.76" y="181.49" width="2.80" height="5.90" fill="#c7c6cb"/>
<rect x="227.12" y="181.49" width="2.80" height="5.90" fill="#c7c6cb"/>
<rect x="231.48" y="181.49" width="2.80" height="5.90" fill="#c7c6cb"/>
<rect x="235.84" y="181.49" width="2.80" height="5.90" fill="#c7c6cb"/>
<rect x="240.20" y="181.49" width="2.80" height="5.90" fill="#c7c6cb"/>
<text x="6.60" y="186.74" font-size="6.6" fill="#262626" textLength="20.50" lengthAdjust="spacingAndGlyphs" stroke="#262626" stroke-width="0.1">STAG2</text>
<text x="43.40" y="186.74" font-size="6.5" fill="#262626" stroke="#262626" stroke-width="0.1">5%</text>
<rect x="65.80" y="189.85" width="2.80" height="5.90" fill="#c7c6cb"/>
<rect x="70.16" y="189.85" width="2.80" height="5.90" fill="#c7c6cb"/>
<rect x="74.52" y="189.85" width="2.80" height="5.90" fill="#c7c6cb"/>
<rect x="78.88" y="189.85" width="2.80" height="5.90" fill="#c7c6cb"/>
<rect x="83.24" y="189.85" width="2.80" height="5.90" fill="#c7c6cb"/>
<rect x="87.60" y="189.85" width="2.80" height="5.90" fill="#c7c6cb"/>
<rect x="91.96" y="189.85" width="2.80" height="5.90" fill="#c7c6cb"/>
<rect x="96.32" y="189.85" width="2.80" height="5.90" fill="#c7c6cb"/>
<rect x="100.68" y="189.85" width="2.80" height="5.90" fill="#c7c6cb"/>
<rect x="105.04" y="189.85" width="2.80" height="5.90" fill="#c7c6cb"/>
<rect x="109.40" y="189.85" width="2.80" height="5.90" fill="#c7c6cb"/>
<rect x="113.76" y="189.85" width="2.80" height="5.90" fill="#c7c6cb"/>
<rect x="118.12" y="189.85" width="2.80" height="5.90" fill="#c7c6cb"/>
<rect x="122.48" y="189.85" width="2.80" height="5.90" fill="#c7c6cb"/>
<rect x="126.84" y="189.85" width="2.80" height="5.90" fill="#c7c6cb"/>
<rect x="131.20" y="189.85" width="2.80" height="5.90" fill="#c7c6cb"/>
<rect x="135.56" y="189.85" width="2.80" height="5.90" fill="#c7c6cb"/>
<rect x="139.72" y="190.55" width="3.20" height="4.50" fill="#3c0f5b"/>
<rect x="144.28" y="189.85" width="2.80" height="5.90" fill="#c7c6cb"/>
<rect x="148.64" y="189.85" width="2.80" height="5.90" fill="#c7c6cb"/>
<rect x="153.00" y="189.85" width="2.80" height="5.90" fill="#c7c6cb"/>
<rect x="157.36" y="189.85" width="2.80" height="5.90" fill="#c7c6cb"/>
<rect x="161.72" y="189.85" width="2.80" height="5.90" fill="#c7c6cb"/>
<rect x="166.08" y="189.85" width="2.80" height="5.90" fill="#c7c6cb"/>
<rect x="170.44" y="189.85" width="2.80" height="5.90" fill="#c7c6cb"/>
<rect x="174.80" y="189.85" width="2.80" height="5.90" fill="#c7c6cb"/>
<rect x="179.16" y="189.85" width="2.80" height="5.90" fill="#c7c6cb"/>
<rect x="183.52" y="189.85" width="2.80" height="5.90" fill="#c7c6cb"/>
<rect x="187.88" y="189.85" width="2.80" height="5.90" fill="#c7c6cb"/>
<rect x="192.24" y="189.85" width="2.80" height="5.90" fill="#c7c6cb"/>
<rect x="196.60" y="189.85" width="2.80" height="5.90" fill="#c7c6cb"/>
<rect x="200.96" y="189.85" width="2.80" height="5.90" fill="#c7c6cb"/>
<rect x="205.32" y="189.85" width="2.80" height="5.90" fill="#c7c6cb"/>
<rect x="209.48" y="190.55" width="3.20" height="4.50" fill="#3c0f5b"/>
<rect x="214.04" y="189.85" width="2.80" height="5.90" fill="#c7c6cb"/>
<rect x="218.40" y="189.85" width="2.80" height="5.90" fill="#c7c6cb"/>
<rect x="222.76" y="189.85" width="2.80" height="5.90" fill="#c7c6cb"/>
<rect x="227.12" y="189.85" width="2.80" height="5.90" fill="#c7c6cb"/>
<rect x="231.48" y="189.85" width="2.80" height="5.90" fill="#c7c6cb"/>
<rect x="235.84" y="189.85" width="2.80" height="5.90" fill="#c7c6cb"/>
<rect x="240.20" y="189.85" width="2.80" height="5.90" fill="#c7c6cb"/>
<text x="6.60" y="195.10" font-size="6.6" fill="#262626" textLength="14.30" lengthAdjust="spacingAndGlyphs" stroke="#262626" stroke-width="0.1">WT1</text>
<text x="43.40" y="195.10" font-size="6.5" fill="#262626" stroke="#262626" stroke-width="0.1">5%</text>
<text x="6.90" y="16.65" font-size="11.5" fill="#111" stroke="#111" stroke-width="0.55" font-weight="bold" textLength="8.60" lengthAdjust="spacingAndGlyphs">A</text>
<rect x="7.00" y="205.60" width="3.1" height="8.3" fill="#a1001f"/>
<text x="12.90" y="211.70" font-size="6.2" fill="#262626" textLength="54.60" lengthAdjust="spacingAndGlyphs" stroke="#262626" stroke-width="0.1">pDC-AML at diagnosis</text>
<rect x="7.00" y="216.20" width="3.1" height="8.3" fill="#1d3c78"/>
<text x="12.90" y="222.30" font-size="6.2" fill="#262626" textLength="35.20" lengthAdjust="spacingAndGlyphs" stroke="#262626" stroke-width="0.1">pDC-AML late</text>
<rect x="70.70" y="205.60" width="3.1" height="8.3" fill="#5ba6df"/>
<text x="77.00" y="211.70" font-size="6.2" fill="#262626" textLength="26.00" lengthAdjust="spacingAndGlyphs" stroke="#262626" stroke-width="0.1">AML, NOS</text>
<rect x="70.70" y="216.20" width="3.1" height="8.3" fill="#c4067c"/>
<text x="77.00" y="222.30" font-size="6.2" fill="#262626" textLength="25.20" lengthAdjust="spacingAndGlyphs" stroke="#262626" stroke-width="0.1">AML-MRC</text>
<rect x="70.70" y="226.80" width="3.1" height="8.3" fill="#eeb412"/>
<text x="77.00" y="232.90" font-size="6.2" fill="#262626" textLength="15.20" lengthAdjust="spacingAndGlyphs" stroke="#262626" stroke-width="0.1">t-AML</text>
<rect x="70.70" y="237.40" width="3.1" height="8.3" fill="#5a9e31"/>
<text x="77.00" y="243.50" font-size="6.2" fill="#262626" textLength="63.30" lengthAdjust="spacingAndGlyphs" stroke="#262626" stroke-width="0.1">AML with NPM1 mutation</text>
<rect x="143.00" y="205.60" width="3.4" height="8.3" fill="#e4e4e8"/>
<rect x="143.40" y="206.70" width="2.6" height="6.1" fill="#3c0f5b"/>
<text x="148.90" y="211.70" font-size="6.2" fill="#262626" textLength="22.20" lengthAdjust="spacingAndGlyphs" stroke="#262626" stroke-width="0.1">Mutation</text>
<rect x="143.40" y="216.60" width="2.9" height="7.6" fill="#dde0e6" stroke="#d8625a" stroke-width="0.8"/>
<text x="148.90" y="222.30" font-size="6.2" fill="#262626" textLength="32.20" lengthAdjust="spacingAndGlyphs" stroke="#262626" stroke-width="0.1">Translocation</text>
<rect x="143.40" y="227.20" width="2.9" height="7.6" fill="#dde0e6" stroke="#d8625a" stroke-width="0.8"/>
<rect x="143.80" y="228.00" width="2.1" height="5.9" fill="#3c0f5b"/>
<text x="148.90" y="232.90" font-size="6.2" fill="#262626" textLength="65.20" lengthAdjust="spacingAndGlyphs" stroke="#262626" stroke-width="0.1">Mutation and translocation</text>
<rect x="217.30" y="205.60" width="3.4" height="8.3" fill="#e4e4e8"/>
<rect x="217.55" y="206.80" width="2.9" height="5.9" fill="#a1001f"/>
<text x="223.30" y="211.70" font-size="6.2" fill="#262626" textLength="11.80" lengthAdjust="spacingAndGlyphs" stroke="#262626" stroke-width="0.1">Gain</text>
<rect x="217.30" y="216.20" width="3.4" height="8.3" fill="#e4e4e8"/>
<rect x="217.55" y="217.40" width="2.9" height="5.9" fill="#1d3c78"/>
<text x="223.30" y="222.30" font-size="6.2" fill="#262626" textLength="20.80" lengthAdjust="spacingAndGlyphs" stroke="#262626" stroke-width="0.1">Deletion</text>
<rect x="217.30" y="226.80" width="3.1" height="8.3" fill="#c7c6cb"/>
<text x="223.30" y="232.90" font-size="6.2" fill="#262626" textLength="32.00" lengthAdjust="spacingAndGlyphs" stroke="#262626" stroke-width="0.1">No alteration</text>
<text x="271.00" y="16.55" font-size="11.5" fill="#111" stroke="#111" stroke-width="0.55" font-weight="bold" textLength="7.50" lengthAdjust="spacingAndGlyphs">C</text>
<rect x="300.35" y="22.95" width="174.05" height="174.30" fill="none" stroke="#111" stroke-width="1.2"/>
<line x1="297.15" y1="189.30" x2="300.35" y2="189.30" stroke="#1a1a1a" stroke-width="0.9"/>
<text x="294.15" y="191.70" font-size="6.5" fill="#333" stroke="#333" stroke-width="0.12" text-anchor="end">0</text>
<line x1="307.80" y1="197.25" x2="307.80" y2="200.45" stroke="#1a1a1a" stroke-width="0.9"/>
<text x="307.80" y="209.50" font-size="6.5" fill="#333" stroke="#333" stroke-width="0.12" text-anchor="middle">0</text>
<line x1="297.15" y1="149.64" x2="300.35" y2="149.64" stroke="#1a1a1a" stroke-width="0.9"/>
<text x="294.15" y="152.04" font-size="6.5" fill="#333" stroke="#333" stroke-width="0.12" text-anchor="end">25</text>
<line x1="347.53" y1="197.25" x2="347.53" y2="200.45" stroke="#1a1a1a" stroke-width="0.9"/>
<text x="347.53" y="209.50" font-size="6.5" fill="#333" stroke="#333" stroke-width="0.12" text-anchor="middle">25</text>
<line x1="297.15" y1="109.98" x2="300.35" y2="109.98" stroke="#1a1a1a" stroke-width="0.9"/>
<text x="294.15" y="112.38" font-size="6.5" fill="#333" stroke="#333" stroke-width="0.12" text-anchor="end">50</text>
<line x1="387.25" y1="197.25" x2="387.25" y2="200.45" stroke="#1a1a1a" stroke-width="0.9"/>
<text x="387.25" y="209.50" font-size="6.5" fill="#333" stroke="#333" stroke-width="0.12" text-anchor="middle">50</text>
<line x1="297.15" y1="70.31" x2="300.35" y2="70.31" stroke="#1a1a1a" stroke-width="0.9"/>
<text x="294.15" y="72.71" font-size="6.5" fill="#333" stroke="#333" stroke-width="0.12" text-anchor="end">75</text>
<line x1="426.98" y1="197.25" x2="426.98" y2="200.45" stroke="#1a1a1a" stroke-width="0.9"/>
<text x="426.98" y="209.50" font-size="6.5" fill="#333" stroke="#333" stroke-width="0.12" text-anchor="middle">75</text>
<line x1="297.15" y1="30.65" x2="300.35" y2="30.65" stroke="#1a1a1a" stroke-width="0.9"/>
<text x="294.15" y="33.05" font-size="6.5" fill="#333" stroke="#333" stroke-width="0.12" text-anchor="end">100</text>
<line x1="466.70" y1="197.25" x2="466.70" y2="200.45" stroke="#1a1a1a" stroke-width="0.9"/>
<text x="466.70" y="209.50" font-size="6.5" fill="#333" stroke="#333" stroke-width="0.12" text-anchor="middle">100</text>
<text x="387.50" y="221.20" font-size="8.0" fill="#333" stroke="#333" stroke-width="0.12" text-anchor="middle" textLength="28.50" lengthAdjust="spacingAndGlyphs">Blasts (%)</text>
<text x="0" y="0" font-size="8.0" fill="#2a2a2a" stroke="#2a2a2a" stroke-width="0.14" text-anchor="middle" textLength="79.5" lengthAdjust="spacingAndGlyphs" transform="translate(278.9,110.0) rotate(-90)">Variant allele frequency (%)</text>
<circle cx="329.40" cy="104.10" r="1.6" fill="#13377f"/>
<circle cx="329.20" cy="110.10" r="1.6" fill="#13377f"/>
<circle cx="334.80" cy="119.00" r="1.6" fill="#13377f"/>
<circle cx="340.20" cy="120.60" r="1.6" fill="#b0001c"/>
<circle cx="326.90" cy="122.60" r="1.6" fill="#57a9ee"/>
<circle cx="329.50" cy="121.60" r="1.6" fill="#4b0f5e"/>
<circle cx="337.10" cy="124.20" r="1.6" fill="#13377f"/>
<circle cx="314.60" cy="130.80" r="1.6" fill="#13377f"/>
<circle cx="326.90" cy="130.60" r="1.6" fill="#a8b87c"/>
<circle cx="335.00" cy="131.70" r="1.6" fill="#a8b87c"/>
<circle cx="314.30" cy="139.10" r="1.6" fill="#e0860f"/>
<circle cx="326.90" cy="148.20" r="1.6" fill="#f0b50f"/>
<circle cx="334.50" cy="154.20" r="1.6" fill="#f0b50f"/>
<circle cx="342.10" cy="153.60" r="1.6" fill="#13377f"/>
<circle cx="309.80" cy="159.40" r="1.6" fill="#f0b50f"/>
<circle cx="309.80" cy="160.60" r="1.6" fill="#13377f"/>
<circle cx="314.40" cy="160.80" r="1.6" fill="#b0001c"/>
<circle cx="314.40" cy="159.50" r="1.6" fill="#f0b50f"/>
<circle cx="326.90" cy="162.50" r="1.6" fill="#13377f"/>
<circle cx="314.40" cy="166.70" r="1.6" fill="#13377f"/>
<circle cx="340.30" cy="168.90" r="1.6" fill="#57a9ee"/>
<circle cx="332.00" cy="171.80" r="1.6" fill="#13377f"/>
<circle cx="329.10" cy="173.70" r="1.6" fill="#4b0f5e"/>
<circle cx="334.30" cy="174.50" r="1.6" fill="#13377f"/>
<circle cx="330.60" cy="178.40" r="1.6" fill="#13377f"/>
<circle cx="335.60" cy="179.30" r="1.6" fill="#13377f"/>
<circle cx="334.50" cy="181.30" r="1.6" fill="#b0001c"/>
<circle cx="334.50" cy="180.90" r="1.6" fill="#57a9ee"/>
<circle cx="342.20" cy="179.70" r="1.6" fill="#57a9ee"/>
<circle cx="334.60" cy="185.20" r="1.6" fill="#13377f"/>
<circle cx="342.40" cy="185.60" r="1.6" fill="#a8b87c"/>
<circle cx="340.20" cy="186.40" r="1.6" fill="#13377f"/>
<circle cx="317.80" cy="187.60" r="1.6" fill="#13377f"/>
<circle cx="379.60" cy="43.90" r="1.6" fill="#e0860f"/>
<circle cx="403.70" cy="70.10" r="1.6" fill="#13377f"/>
<circle cx="409.00" cy="68.70" r="1.6" fill="#13377f"/>
<circle cx="408.70" cy="88.10" r="1.6" fill="#e0860f"/>
<circle cx="381.20" cy="96.70" r="1.6" fill="#13377f"/>
<circle cx="379.60" cy="115.40" r="1.6" fill="#a8b87c"/>
<circle cx="408.90" cy="114.70" r="1.6" fill="#57a9ee"/>
<circle cx="408.50" cy="118.30" r="1.6" fill="#13377f"/>
<circle cx="408.90" cy="121.30" r="1.6" fill="#b0001c"/>
<circle cx="408.90" cy="125.70" r="1.6" fill="#f0b50f"/>
<circle cx="408.90" cy="128.40" r="1.6" fill="#a8b87c"/>
<circle cx="390.50" cy="121.90" r="1.6" fill="#13377f"/>
<circle cx="381.20" cy="126.80" r="1.6" fill="#57a9ee"/>
<circle cx="369.60" cy="131.30" r="1.6" fill="#13377f"/>
<circle cx="379.60" cy="133.00" r="1.6" fill="#f0b50f"/>
<circle cx="379.60" cy="134.10" r="1.6" fill="#13377f"/>
<circle cx="414.40" cy="136.90" r="1.6" fill="#13377f"/>
<circle cx="393.60" cy="147.40" r="1.6" fill="#13377f"/>
<circle cx="414.30" cy="152.00" r="1.6" fill="#4b0f5e"/>
<circle cx="373.10" cy="157.40" r="1.6" fill="#f0b50f"/>
<circle cx="373.10" cy="162.80" r="1.6" fill="#b0001c"/>
<circle cx="373.10" cy="161.70" r="1.6" fill="#13377f"/>
<circle cx="382.20" cy="163.90" r="1.6" fill="#13377f"/>
<circle cx="382.20" cy="170.20" r="1.6" fill="#57a9ee"/>
<circle cx="393.60" cy="172.10" r="1.6" fill="#4b0f5e"/>
<circle cx="388.50" cy="180.90" r="1.6" fill="#13377f"/>
<line x1="301.76" y1="195.33" x2="473.37" y2="23.99" stroke="#222" stroke-width="1.2" stroke-dasharray="3.3 2.1"/>
<text x="483.80" y="86.20" font-size="6.2" fill="#333" stroke="#333" stroke-width="0.12" textLength="22.20" lengthAdjust="spacingAndGlyphs">Mutation</text>
<circle cx="485.3" cy="91.60" r="1.45" fill="#13377f"/>
<text x="489.50" y="93.55" font-size="6.2" fill="#333" stroke="#333" stroke-width="0.12" textLength="18.10" lengthAdjust="spacingAndGlyphs">RUNX1</text>
<circle cx="485.3" cy="98.93" r="1.45" fill="#f0b50f"/>
<text x="489.50" y="100.88" font-size="6.2" fill="#333" stroke="#333" stroke-width="0.12" textLength="16.30" lengthAdjust="spacingAndGlyphs">ASXL1</text>
<circle cx="485.3" cy="106.26" r="1.45" fill="#4b0f5e"/>
<text x="489.50" y="108.21" font-size="6.2" fill="#333" stroke="#333" stroke-width="0.12" textLength="23.50" lengthAdjust="spacingAndGlyphs">DNMT3A</text>
<circle cx="485.3" cy="113.59" r="1.45" fill="#e0860f"/>
<text x="489.50" y="115.54" font-size="6.2" fill="#333" stroke="#333" stroke-width="0.12" textLength="14.00" lengthAdjust="spacingAndGlyphs">PHF6</text>
<circle cx="485.3" cy="120.92" r="1.45" fill="#57a9ee"/>
<text x="489.50" y="122.87" font-size="6.2" fill="#333" stroke="#333" stroke-width="0.12" textLength="16.00" lengthAdjust="spacingAndGlyphs">SRSF2</text>
<circle cx="485.3" cy="128.25" r="1.45" fill="#b0001c"/>
<text x="489.50" y="130.20" font-size="6.2" fill="#333" stroke="#333" stroke-width="0.12" textLength="12.70" lengthAdjust="spacingAndGlyphs">TET2</text>
<circle cx="485.3" cy="135.58" r="1.45" fill="#a8b87c"/>
<text x="489.50" y="137.53" font-size="6.2" fill="#333" stroke="#333" stroke-width="0.12" textLength="15.10" lengthAdjust="spacingAndGlyphs">NRAS</text>
<text x="7.30" y="271.25" font-size="11.5" fill="#111" stroke="#111" stroke-width="0.55" font-weight="bold" textLength="7.40" lengthAdjust="spacingAndGlyphs">B</text>
<line x1="50.2" y1="278.5" x2="50.2" y2="342.8" stroke="#111" stroke-width="1"/>
<line x1="47.0" y1="328.60" x2="50.2" y2="328.60" stroke="#111" stroke-width="0.8"/>
<line x1="47.0" y1="318.94" x2="50.2" y2="318.94" stroke="#111" stroke-width="0.8"/>
<line x1="47.0" y1="309.28" x2="50.2" y2="309.28" stroke="#111" stroke-width="0.8"/>
<line x1="47.0" y1="299.62" x2="50.2" y2="299.62" stroke="#111" stroke-width="0.8"/>
<line x1="47.0" y1="289.96" x2="50.2" y2="289.96" stroke="#111" stroke-width="0.8"/>
<line x1="47.0" y1="280.30" x2="50.2" y2="280.30" stroke="#111" stroke-width="0.8"/>
<text x="44.30" y="282.90" font-size="6.8" fill="#333" stroke="#333" stroke-width="0.12" text-anchor="end">5</text>
<text x="44.30" y="330.90" font-size="6.8" fill="#333" stroke="#333" stroke-width="0.12" text-anchor="end">0</text>
<text x="0" y="0" font-size="9.6" fill="#222" stroke="#222" stroke-width="0.22" text-anchor="middle" textLength="25.6" lengthAdjust="spacingAndGlyphs" transform="translate(25.6,305.3) rotate(-90)"># RUNX1</text>
<text x="0" y="0" font-size="9.8" fill="#222" stroke="#222" stroke-width="0.2" text-anchor="middle" textLength="30.6" lengthAdjust="spacingAndGlyphs" transform="translate(35.9,304.3) rotate(-90)">mutations</text>
<line x1="49.7" y1="342.6" x2="444.6" y2="342.6" stroke="#111" stroke-width="1"/>
<line x1="53.55" y1="342.6" x2="53.55" y2="345.8" stroke="#111" stroke-width="0.8"/>
<line x1="93.99" y1="342.6" x2="93.99" y2="345.8" stroke="#111" stroke-width="0.8"/>
<line x1="134.43" y1="342.6" x2="134.43" y2="345.8" stroke="#111" stroke-width="0.8"/>
<line x1="174.87" y1="342.6" x2="174.87" y2="345.8" stroke="#111" stroke-width="0.8"/>
<line x1="215.31" y1="342.6" x2="215.31" y2="345.8" stroke="#111" stroke-width="0.8"/>
<line x1="255.75" y1="342.6" x2="255.75" y2="345.8" stroke="#111" stroke-width="0.8"/>
<line x1="296.19" y1="342.6" x2="296.19" y2="345.8" stroke="#111" stroke-width="0.8"/>
<line x1="336.63" y1="342.6" x2="336.63" y2="345.8" stroke="#111" stroke-width="0.8"/>
<line x1="377.07" y1="342.6" x2="377.07" y2="345.8" stroke="#111" stroke-width="0.8"/>
<line x1="417.51" y1="342.6" x2="417.51" y2="345.8" stroke="#111" stroke-width="0.8"/>
<line x1="441.77" y1="342.6" x2="441.77" y2="345.8" stroke="#111" stroke-width="0.8"/>
<text x="53.55" y="353.60" font-size="6.2" fill="#333" stroke="#333" stroke-width="0.12" text-anchor="middle">0</text>
<text x="134.43" y="353.60" font-size="6.2" fill="#333" stroke="#333" stroke-width="0.12" text-anchor="middle">100</text>
<text x="215.31" y="353.60" font-size="6.2" fill="#333" stroke="#333" stroke-width="0.12" text-anchor="middle">200</text>
<text x="296.19" y="353.60" font-size="6.2" fill="#333" stroke="#333" stroke-width="0.12" text-anchor="middle">300</text>
<text x="377.07" y="353.60" font-size="6.2" fill="#333" stroke="#333" stroke-width="0.12" text-anchor="middle">400</text>
<text x="441.37" y="353.60" font-size="6.2" fill="#333" stroke="#333" stroke-width="0.12" text-anchor="middle">480aa</text>
<rect x="53.8" y="332.9" width="320" height="5.4" fill="#c5c3c9"/>
<line x1="98.90" y1="320.30" x2="98.90" y2="331" stroke="#d8d8d8" stroke-width="0.8"/>
<line x1="132.90" y1="310.90" x2="132.90" y2="331" stroke="#d8d8d8" stroke-width="0.8"/>
<line x1="140.30" y1="310.90" x2="140.30" y2="331" stroke="#d8d8d8" stroke-width="0.8"/>
<line x1="152.90" y1="310.90" x2="152.90" y2="331" stroke="#d8d8d8" stroke-width="0.8"/>
<line x1="138.70" y1="320.30" x2="138.70" y2="331" stroke="#d8d8d8" stroke-width="0.8"/>
<line x1="136.20" y1="320.30" x2="136.20" y2="331" stroke="#d8d8d8" stroke-width="0.8"/>
<line x1="148.10" y1="320.30" x2="148.10" y2="331" stroke="#d8d8d8" stroke-width="0.8"/>
<line x1="163.70" y1="320.30" x2="163.70" y2="331" stroke="#d8d8d8" stroke-width="0.8"/>
<line x1="173.20" y1="320.30" x2="173.20" y2="331" stroke="#d8d8d8" stroke-width="0.8"/>
<line x1="184.60" y1="310.90" x2="184.60" y2="331" stroke="#d8d8d8" stroke-width="0.8"/>
<line x1="188.00" y1="310.90" x2="188.00" y2="331" stroke="#d8d8d8" stroke-width="0.8"/>
<line x1="194.50" y1="320.30" x2="194.50" y2="331" stroke="#d8d8d8" stroke-width="0.8"/>
<line x1="212.00" y1="320.30" x2="212.00" y2="331" stroke="#d8d8d8" stroke-width="0.8"/>
<line x1="218.30" y1="320.30" x2="218.30" y2="331" stroke="#d8d8d8" stroke-width="0.8"/>
<line x1="213.60" y1="301.40" x2="213.60" y2="331" stroke="#d8d8d8" stroke-width="0.8"/>
<line x1="216.50" y1="301.40" x2="216.50" y2="331" stroke="#d8d8d8" stroke-width="0.8"/>
<line x1="273.50" y1="320.30" x2="273.50" y2="331" stroke="#d8d8d8" stroke-width="0.8"/>
<line x1="282.30" y1="320.30" x2="282.30" y2="331" stroke="#d8d8d8" stroke-width="0.8"/>
<line x1="284.20" y1="320.30" x2="284.20" y2="331" stroke="#d8d8d8" stroke-width="0.8"/>
<line x1="291.40" y1="320.30" x2="291.40" y2="331" stroke="#d8d8d8" stroke-width="0.8"/>
<line x1="312.50" y1="320.30" x2="312.50" y2="331" stroke="#d8d8d8" stroke-width="0.8"/>
<line x1="374.80" y1="320.30" x2="374.80" y2="331" stroke="#d8d8d8" stroke-width="0.8"/>
<line x1="405.60" y1="320.30" x2="405.60" y2="331" stroke="#d8d8d8" stroke-width="0.8"/>
<line x1="428.70" y1="320.30" x2="428.70" y2="331" stroke="#d8d8d8" stroke-width="0.8"/>
<line x1="438.30" y1="320.30" x2="438.30" y2="331" stroke="#d8d8d8" stroke-width="0.8"/>
<ellipse cx="98.90" cy="320.30" rx="1.65" ry="2.1" fill="#111"/>
<ellipse cx="132.90" cy="310.90" rx="1.65" ry="2.1" fill="#111"/>
<ellipse cx="140.30" cy="310.90" rx="1.65" ry="2.1" fill="#55a434"/>
<ellipse cx="152.90" cy="310.90" rx="1.65" ry="2.1" fill="#111"/>
<ellipse cx="138.70" cy="320.30" rx="1.65" ry="2.1" fill="#111"/>
<ellipse cx="136.20" cy="320.30" rx="1.65" ry="2.1" fill="#55a434"/>
<ellipse cx="148.10" cy="320.30" rx="1.65" ry="2.1" fill="#111"/>
<ellipse cx="163.70" cy="320.30" rx="1.65" ry="2.1" fill="#55a434"/>
<ellipse cx="173.20" cy="320.30" rx="1.65" ry="2.1" fill="#55a434"/>
<ellipse cx="184.60" cy="310.90" rx="1.65" ry="2.1" fill="#55a434"/>
<ellipse cx="188.00" cy="310.90" rx="1.65" ry="2.1" fill="#55a434"/>
<ellipse cx="194.50" cy="320.30" rx="1.65" ry="2.1" fill="#55a434"/>
<ellipse cx="212.00" cy="320.30" rx="1.65" ry="2.1" fill="#55a434"/>
<ellipse cx="218.30" cy="320.30" rx="1.65" ry="2.1" fill="#111"/>
<ellipse cx="213.60" cy="301.40" rx="1.65" ry="2.1" fill="#55a434"/>
<ellipse cx="216.50" cy="301.40" rx="1.65" ry="2.1" fill="#55a434"/>
<ellipse cx="273.50" cy="320.30" rx="1.65" ry="2.1" fill="#111"/>
<ellipse cx="282.30" cy="320.30" rx="1.65" ry="2.1" fill="#111"/>
<ellipse cx="284.20" cy="320.30" rx="1.65" ry="2.1" fill="#111"/>
<ellipse cx="291.40" cy="320.30" rx="1.65" ry="2.1" fill="#111"/>
<ellipse cx="312.50" cy="320.30" rx="1.65" ry="2.1" fill="#111"/>
<ellipse cx="374.80" cy="320.30" rx="1.65" ry="2.1" fill="#111"/>
<ellipse cx="405.60" cy="320.30" rx="1.65" ry="2.1" fill="#111"/>
<ellipse cx="428.70" cy="320.30" rx="1.65" ry="2.1" fill="#55a434"/>
<ellipse cx="438.30" cy="320.30" rx="1.65" ry="2.1" fill="#55a434"/>
<rect x="115.0" y="330.5" width="107.5" height="9.3" fill="#5fa83a"/>
<text x="168.90" y="338.60" font-size="9.4" fill="#111" stroke="#111" stroke-width="0.12" font-weight="bold" text-anchor="middle" textLength="23.80" lengthAdjust="spacingAndGlyphs">RUNT</text>
<rect x="365.4" y="330.4" width="76.3" height="10.0" fill="#a8001f"/>
<text x="403.70" y="338.70" font-size="9.4" fill="#fff" stroke="#fff" stroke-width="0.12" font-weight="bold" text-anchor="middle" textLength="30.50" lengthAdjust="spacingAndGlyphs">RUNXL</text>
<text x="202.2" y="297.1" font-size="6.2" font-weight="bold" textLength="41.8" lengthAdjust="spacingAndGlyphs"><tspan fill="#5daa3c">R201Q</tspan><tspan fill="#111">/R201*</tspan></text>
<text x="53.80" y="371.00" font-size="6.4" fill="#4e9c2c" font-weight="bold" textLength="60.00" lengthAdjust="spacingAndGlyphs" stroke="#4e9c2c" stroke-width="0.12">Missense Mutations</text>
<text x="53.8" y="381.0" font-size="6.4" fill="#111" stroke="#111" stroke-width="0.12"><tspan font-weight="bold" textLength="66.2" lengthAdjust="spacingAndGlyphs">Truncating Mutations:</tspan></text>
<text x="122.00" y="381.00" font-size="6.4" fill="#222" stroke="#222" stroke-width="0.12" textLength="212.00" lengthAdjust="spacingAndGlyphs">Nonsense, Nonstop, Frameshift deletion, Frameshift insertion, Splice site</text>
<rect x="0.5" y="0.5" width="519" height="388" fill="none" stroke="#000" stroke-width="1"/>
</svg>
</body></html>
